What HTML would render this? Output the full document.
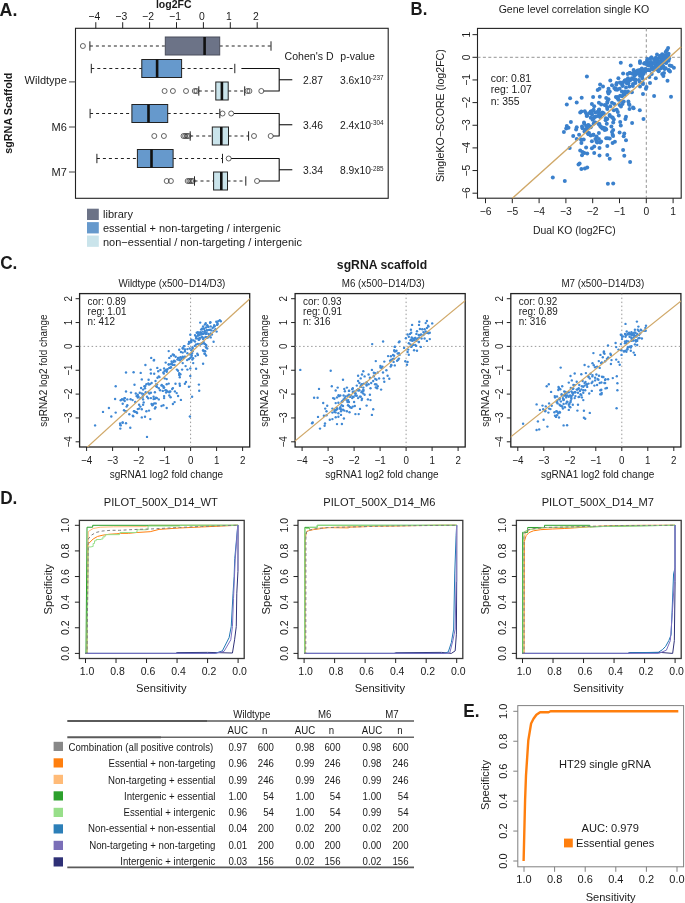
<!DOCTYPE html>
<html><head><meta charset="utf-8"><style>
html,body{margin:0;padding:0;background:#fff;}
body{width:685px;height:903px;overflow:hidden;}
svg{display:block;will-change:transform;font-family:"Liberation Sans", sans-serif;}
</style></head><body>
<svg width="685" height="903" viewBox="0 0 685 903">
<text transform="translate(-0.40 15.50) scale(1 1.05)" font-size="17.8" text-anchor="start" font-weight="bold" fill="#1a1a1a">A.</text>
<text transform="translate(410.60 15.00) scale(1 1.08)" font-size="16.7" text-anchor="start" font-weight="bold" fill="#1a1a1a">B.</text>
<text transform="translate(0.20 269.30) scale(1 1.06)" font-size="17.2" text-anchor="start" font-weight="bold" fill="#1a1a1a">C.</text>
<text transform="translate(0.20 504.10) scale(1 1.06)" font-size="17.2" text-anchor="start" font-weight="bold" fill="#1a1a1a">D.</text>
<text transform="translate(463.20 717.30) scale(1 1.06)" font-size="17.2" text-anchor="start" font-weight="bold" fill="#1a1a1a">E.</text>
<rect x="75.50" y="28.30" width="312.70" height="170.00" fill="none" stroke="#222" stroke-width="1.1"/>
<line x1="95.80" y1="28.30" x2="95.80" y2="22.20" stroke="#222" stroke-width="1"/>
<text transform="translate(94.40 19.80) scale(1 1.08)" font-size="10.4" text-anchor="middle" fill="#1a1a1a">&#8722;4</text>
<line x1="122.70" y1="28.30" x2="122.70" y2="22.20" stroke="#222" stroke-width="1"/>
<text transform="translate(121.30 19.80) scale(1 1.08)" font-size="10.4" text-anchor="middle" fill="#1a1a1a">&#8722;3</text>
<line x1="149.60" y1="28.30" x2="149.60" y2="22.20" stroke="#222" stroke-width="1"/>
<text transform="translate(148.20 19.80) scale(1 1.08)" font-size="10.4" text-anchor="middle" fill="#1a1a1a">&#8722;2</text>
<line x1="176.50" y1="28.30" x2="176.50" y2="22.20" stroke="#222" stroke-width="1"/>
<text transform="translate(175.10 19.80) scale(1 1.08)" font-size="10.4" text-anchor="middle" fill="#1a1a1a">&#8722;1</text>
<line x1="203.40" y1="28.30" x2="203.40" y2="22.20" stroke="#222" stroke-width="1"/>
<text transform="translate(202.00 19.80) scale(1 1.08)" font-size="10.4" text-anchor="middle" fill="#1a1a1a">0</text>
<line x1="230.30" y1="28.30" x2="230.30" y2="22.20" stroke="#222" stroke-width="1"/>
<text transform="translate(228.90 19.80) scale(1 1.08)" font-size="10.4" text-anchor="middle" fill="#1a1a1a">1</text>
<line x1="257.20" y1="28.30" x2="257.20" y2="22.20" stroke="#222" stroke-width="1"/>
<text transform="translate(255.80 19.80) scale(1 1.08)" font-size="10.4" text-anchor="middle" fill="#1a1a1a">2</text>
<text transform="translate(173.70 7.70)" font-size="10.5" text-anchor="middle" font-weight="bold" fill="#1a1a1a">log2FC</text>
<line x1="69.00" y1="81.90" x2="75.50" y2="81.90" stroke="#444" stroke-width="1"/>
<text transform="translate(66.80 83.60)" font-size="11.0" text-anchor="end" fill="#1a1a1a">Wildtype</text>
<line x1="69.00" y1="127.00" x2="75.50" y2="127.00" stroke="#444" stroke-width="1"/>
<text transform="translate(66.80 131.20)" font-size="11.0" text-anchor="end" fill="#1a1a1a">M6</text>
<line x1="69.00" y1="172.00" x2="75.50" y2="172.00" stroke="#444" stroke-width="1"/>
<text transform="translate(66.80 175.80)" font-size="11.0" text-anchor="end" fill="#1a1a1a">M7</text>
<text transform="translate(11.50 113.20) rotate(-90)" font-size="10.8" text-anchor="middle" font-weight="bold" fill="#1a1a1a">sgRNA Scaffold</text>
<line x1="89.90" y1="46.00" x2="165.30" y2="46.00" stroke="#222" stroke-width="1" stroke-dasharray="3,3"/>
<line x1="219.70" y1="46.00" x2="271.00" y2="46.00" stroke="#222" stroke-width="1" stroke-dasharray="3,3"/>
<line x1="89.90" y1="41.30" x2="89.90" y2="50.70" stroke="#222" stroke-width="1"/>
<line x1="271.00" y1="41.30" x2="271.00" y2="50.70" stroke="#222" stroke-width="1"/>
<rect x="165.30" y="37.00" width="54.40" height="18.00" fill="#6c7387" stroke="#4a4e5c" stroke-width="1"/>
<line x1="204.60" y1="37.00" x2="204.60" y2="55.00" stroke="#111" stroke-width="2.6"/>
<circle cx="82.90" cy="46.00" r="2.5" fill="none" stroke="#333" stroke-width="0.75"/>
<line x1="91.30" y1="68.50" x2="141.80" y2="68.50" stroke="#222" stroke-width="1" stroke-dasharray="3,3"/>
<line x1="181.60" y1="68.50" x2="234.80" y2="68.50" stroke="#222" stroke-width="1" stroke-dasharray="3,3"/>
<line x1="91.30" y1="63.80" x2="91.30" y2="73.20" stroke="#222" stroke-width="1"/>
<line x1="234.80" y1="63.80" x2="234.80" y2="73.20" stroke="#222" stroke-width="1"/>
<rect x="141.80" y="59.50" width="39.80" height="18.00" fill="#6699cc" stroke="#222" stroke-width="1"/>
<line x1="157.10" y1="59.50" x2="157.10" y2="77.50" stroke="#111" stroke-width="2.6"/>
<line x1="198.80" y1="91.00" x2="215.80" y2="91.00" stroke="#222" stroke-width="1" stroke-dasharray="3,3"/>
<line x1="228.20" y1="91.00" x2="244.70" y2="91.00" stroke="#222" stroke-width="1" stroke-dasharray="3,3"/>
<line x1="198.80" y1="86.30" x2="198.80" y2="95.70" stroke="#222" stroke-width="1"/>
<line x1="244.70" y1="86.30" x2="244.70" y2="95.70" stroke="#222" stroke-width="1"/>
<rect x="215.80" y="82.00" width="12.40" height="18.00" fill="#cae4eb" stroke="#222" stroke-width="1"/>
<line x1="221.90" y1="82.00" x2="221.90" y2="100.00" stroke="#111" stroke-width="2.6"/>
<circle cx="164.60" cy="91.00" r="2.5" fill="none" stroke="#333" stroke-width="0.75"/>
<circle cx="172.90" cy="91.00" r="2.5" fill="none" stroke="#333" stroke-width="0.75"/>
<circle cx="186.00" cy="91.00" r="2.5" fill="none" stroke="#333" stroke-width="0.75"/>
<circle cx="194.80" cy="91.00" r="2.5" fill="none" stroke="#333" stroke-width="0.75"/>
<circle cx="196.50" cy="91.00" r="2.5" fill="none" stroke="#333" stroke-width="0.75"/>
<circle cx="247.40" cy="91.00" r="2.5" fill="none" stroke="#333" stroke-width="0.75"/>
<circle cx="249.40" cy="91.00" r="2.5" fill="none" stroke="#333" stroke-width="0.75"/>
<circle cx="261.30" cy="91.00" r="2.5" fill="none" stroke="#333" stroke-width="0.75"/>
<line x1="90.10" y1="113.50" x2="131.90" y2="113.50" stroke="#222" stroke-width="1" stroke-dasharray="3,3"/>
<line x1="167.70" y1="113.50" x2="219.80" y2="113.50" stroke="#222" stroke-width="1" stroke-dasharray="3,3"/>
<line x1="90.10" y1="108.80" x2="90.10" y2="118.20" stroke="#222" stroke-width="1"/>
<line x1="219.80" y1="108.80" x2="219.80" y2="118.20" stroke="#222" stroke-width="1"/>
<rect x="131.90" y="104.50" width="35.80" height="18.00" fill="#6699cc" stroke="#222" stroke-width="1"/>
<line x1="148.50" y1="104.50" x2="148.50" y2="122.50" stroke="#111" stroke-width="2.6"/>
<circle cx="222.50" cy="113.50" r="2.5" fill="none" stroke="#333" stroke-width="0.75"/>
<circle cx="231.20" cy="113.50" r="2.5" fill="none" stroke="#333" stroke-width="0.75"/>
<line x1="190.20" y1="136.00" x2="212.30" y2="136.00" stroke="#222" stroke-width="1" stroke-dasharray="3,3"/>
<line x1="228.50" y1="136.00" x2="248.60" y2="136.00" stroke="#222" stroke-width="1" stroke-dasharray="3,3"/>
<line x1="190.20" y1="131.30" x2="190.20" y2="140.70" stroke="#222" stroke-width="1"/>
<line x1="248.60" y1="131.30" x2="248.60" y2="140.70" stroke="#222" stroke-width="1"/>
<rect x="212.30" y="127.00" width="16.20" height="18.00" fill="#cae4eb" stroke="#222" stroke-width="1"/>
<line x1="221.30" y1="127.00" x2="221.30" y2="145.00" stroke="#111" stroke-width="2.6"/>
<circle cx="154.30" cy="136.00" r="2.5" fill="none" stroke="#333" stroke-width="0.75"/>
<circle cx="163.90" cy="136.00" r="2.5" fill="none" stroke="#333" stroke-width="0.75"/>
<circle cx="183.50" cy="136.00" r="2.5" fill="none" stroke="#333" stroke-width="0.75"/>
<circle cx="185.20" cy="136.00" r="2.5" fill="none" stroke="#333" stroke-width="0.75"/>
<circle cx="186.90" cy="136.00" r="2.5" fill="none" stroke="#333" stroke-width="0.75"/>
<circle cx="188.50" cy="136.00" r="2.5" fill="none" stroke="#333" stroke-width="0.75"/>
<circle cx="254.00" cy="136.00" r="2.5" fill="none" stroke="#333" stroke-width="0.75"/>
<circle cx="270.70" cy="136.00" r="2.5" fill="none" stroke="#333" stroke-width="0.75"/>
<line x1="96.90" y1="158.50" x2="137.40" y2="158.50" stroke="#222" stroke-width="1" stroke-dasharray="3,3"/>
<line x1="173.10" y1="158.50" x2="222.50" y2="158.50" stroke="#222" stroke-width="1" stroke-dasharray="3,3"/>
<line x1="96.90" y1="153.80" x2="96.90" y2="163.20" stroke="#222" stroke-width="1"/>
<line x1="222.50" y1="153.80" x2="222.50" y2="163.20" stroke="#222" stroke-width="1"/>
<rect x="137.40" y="149.50" width="35.70" height="18.00" fill="#6699cc" stroke="#222" stroke-width="1"/>
<line x1="151.50" y1="149.50" x2="151.50" y2="167.50" stroke="#111" stroke-width="2.6"/>
<circle cx="228.70" cy="158.50" r="2.5" fill="none" stroke="#333" stroke-width="0.75"/>
<line x1="194.50" y1="181.00" x2="213.60" y2="181.00" stroke="#222" stroke-width="1" stroke-dasharray="3,3"/>
<line x1="227.50" y1="181.00" x2="245.80" y2="181.00" stroke="#222" stroke-width="1" stroke-dasharray="3,3"/>
<line x1="194.50" y1="176.30" x2="194.50" y2="185.70" stroke="#222" stroke-width="1"/>
<line x1="245.80" y1="176.30" x2="245.80" y2="185.70" stroke="#222" stroke-width="1"/>
<rect x="213.60" y="172.00" width="13.90" height="18.00" fill="#cae4eb" stroke="#222" stroke-width="1"/>
<line x1="221.30" y1="172.00" x2="221.30" y2="190.00" stroke="#111" stroke-width="2.6"/>
<circle cx="166.70" cy="181.00" r="2.5" fill="none" stroke="#333" stroke-width="0.75"/>
<circle cx="170.90" cy="181.00" r="2.5" fill="none" stroke="#333" stroke-width="0.75"/>
<circle cx="187.70" cy="181.00" r="2.5" fill="none" stroke="#333" stroke-width="0.75"/>
<circle cx="189.40" cy="181.00" r="2.5" fill="none" stroke="#333" stroke-width="0.75"/>
<circle cx="191.10" cy="181.00" r="2.5" fill="none" stroke="#333" stroke-width="0.75"/>
<circle cx="192.80" cy="181.00" r="2.5" fill="none" stroke="#333" stroke-width="0.75"/>
<circle cx="257.00" cy="181.00" r="2.5" fill="none" stroke="#333" stroke-width="0.75"/>
<polyline points="241.40,68.50 279.20,68.50 279.20,91.00 263.70,91.00" fill="none" stroke="#111" stroke-width="1.1" stroke-linejoin="round"/>
<line x1="279.20" y1="79.75" x2="292.30" y2="79.75" stroke="#111" stroke-width="1.1"/>
<polyline points="234.00,113.50 279.20,113.50 279.20,136.00 273.10,136.00" fill="none" stroke="#111" stroke-width="1.1" stroke-linejoin="round"/>
<line x1="279.20" y1="124.75" x2="292.30" y2="124.75" stroke="#111" stroke-width="1.1"/>
<polyline points="231.20,158.50 279.20,158.50 279.20,181.00 259.40,181.00" fill="none" stroke="#111" stroke-width="1.1" stroke-linejoin="round"/>
<line x1="279.20" y1="169.75" x2="292.30" y2="169.75" stroke="#111" stroke-width="1.1"/>
<text transform="translate(284.60 60.40)" font-size="10.55" text-anchor="start" fill="#1a1a1a">Cohen's D</text>
<text transform="translate(340.30 60.40)" font-size="10.5" text-anchor="start" fill="#1a1a1a">p-value</text>
<text transform="translate(303.00 84.10)" font-size="10.3" text-anchor="start" fill="#1a1a1a">2.87</text>
<text transform="translate(340.00 84.10)" font-size="10.3" text-anchor="start" fill="#1a1a1a">3.6x10</text>
<text transform="translate(370.80 80.20)" font-size="6.3" text-anchor="start" fill="#1a1a1a">-237</text>
<text transform="translate(303.00 129.00)" font-size="10.3" text-anchor="start" fill="#1a1a1a">3.46</text>
<text transform="translate(340.00 129.00)" font-size="10.3" text-anchor="start" fill="#1a1a1a">2.4x10</text>
<text transform="translate(370.80 125.10)" font-size="6.3" text-anchor="start" fill="#1a1a1a">-304</text>
<text transform="translate(303.00 174.40)" font-size="10.3" text-anchor="start" fill="#1a1a1a">3.34</text>
<text transform="translate(340.00 174.40)" font-size="10.3" text-anchor="start" fill="#1a1a1a">8.9x10</text>
<text transform="translate(370.80 170.50)" font-size="6.3" text-anchor="start" fill="#1a1a1a">-285</text>
<rect x="87" y="208.70" width="11.8" height="11.3" fill="#6c7387"/>
<text transform="translate(103.00 218.20)" font-size="11.0" text-anchor="start" fill="#1a1a1a">library</text>
<rect x="87" y="222.12" width="11.8" height="11.3" fill="#6699cc"/>
<text transform="translate(103.00 232.10)" font-size="11.0" text-anchor="start" fill="#1a1a1a">essential + non-targeting / intergenic</text>
<rect x="87" y="235.54" width="11.8" height="11.3" fill="#cae4eb"/>
<text transform="translate(103.00 246.00)" font-size="11.0" text-anchor="start" fill="#1a1a1a">non&#8722;essential / non-targeting / intergenic</text>
<rect x="477.50" y="28.40" width="203.70" height="169.80" fill="none" stroke="#222" stroke-width="1.1"/>
<line x1="646.30" y1="28.40" x2="646.30" y2="198.20" stroke="#888" stroke-width="0.9" stroke-dasharray="3,2.4"/>
<line x1="477.50" y1="57.30" x2="681.20" y2="57.30" stroke="#888" stroke-width="0.9" stroke-dasharray="3,2.4"/>
<line x1="485.50" y1="198.20" x2="485.50" y2="203.20" stroke="#222" stroke-width="1"/>
<text transform="translate(485.50 215.40) scale(1 1.04)" font-size="10.3" text-anchor="middle" fill="#1a1a1a">&#8722;6</text>
<line x1="477.50" y1="193.20" x2="472.50" y2="193.20" stroke="#222" stroke-width="1"/>
<text transform="translate(470.20 193.20) rotate(-90) scale(1 1.04)" font-size="10.3" text-anchor="middle" fill="#1a1a1a">&#8722;6</text>
<line x1="512.30" y1="198.20" x2="512.30" y2="203.20" stroke="#222" stroke-width="1"/>
<text transform="translate(512.30 215.40) scale(1 1.04)" font-size="10.3" text-anchor="middle" fill="#1a1a1a">&#8722;5</text>
<line x1="477.50" y1="170.55" x2="472.50" y2="170.55" stroke="#222" stroke-width="1"/>
<text transform="translate(470.20 170.55) rotate(-90) scale(1 1.04)" font-size="10.3" text-anchor="middle" fill="#1a1a1a">&#8722;5</text>
<line x1="539.10" y1="198.20" x2="539.10" y2="203.20" stroke="#222" stroke-width="1"/>
<text transform="translate(539.10 215.40) scale(1 1.04)" font-size="10.3" text-anchor="middle" fill="#1a1a1a">&#8722;4</text>
<line x1="477.50" y1="147.90" x2="472.50" y2="147.90" stroke="#222" stroke-width="1"/>
<text transform="translate(470.20 147.90) rotate(-90) scale(1 1.04)" font-size="10.3" text-anchor="middle" fill="#1a1a1a">&#8722;4</text>
<line x1="565.90" y1="198.20" x2="565.90" y2="203.20" stroke="#222" stroke-width="1"/>
<text transform="translate(565.90 215.40) scale(1 1.04)" font-size="10.3" text-anchor="middle" fill="#1a1a1a">&#8722;3</text>
<line x1="477.50" y1="125.25" x2="472.50" y2="125.25" stroke="#222" stroke-width="1"/>
<text transform="translate(470.20 125.25) rotate(-90) scale(1 1.04)" font-size="10.3" text-anchor="middle" fill="#1a1a1a">&#8722;3</text>
<line x1="592.70" y1="198.20" x2="592.70" y2="203.20" stroke="#222" stroke-width="1"/>
<text transform="translate(592.70 215.40) scale(1 1.04)" font-size="10.3" text-anchor="middle" fill="#1a1a1a">&#8722;2</text>
<line x1="477.50" y1="102.60" x2="472.50" y2="102.60" stroke="#222" stroke-width="1"/>
<text transform="translate(470.20 102.60) rotate(-90) scale(1 1.04)" font-size="10.3" text-anchor="middle" fill="#1a1a1a">&#8722;2</text>
<line x1="619.50" y1="198.20" x2="619.50" y2="203.20" stroke="#222" stroke-width="1"/>
<text transform="translate(619.50 215.40) scale(1 1.04)" font-size="10.3" text-anchor="middle" fill="#1a1a1a">&#8722;1</text>
<line x1="477.50" y1="79.95" x2="472.50" y2="79.95" stroke="#222" stroke-width="1"/>
<text transform="translate(470.20 79.95) rotate(-90) scale(1 1.04)" font-size="10.3" text-anchor="middle" fill="#1a1a1a">&#8722;1</text>
<line x1="646.30" y1="198.20" x2="646.30" y2="203.20" stroke="#222" stroke-width="1"/>
<text transform="translate(646.30 215.40) scale(1 1.04)" font-size="10.3" text-anchor="middle" fill="#1a1a1a">0</text>
<line x1="477.50" y1="57.30" x2="472.50" y2="57.30" stroke="#222" stroke-width="1"/>
<text transform="translate(470.20 57.30) rotate(-90) scale(1 1.04)" font-size="10.3" text-anchor="middle" fill="#1a1a1a">0</text>
<line x1="673.10" y1="198.20" x2="673.10" y2="203.20" stroke="#222" stroke-width="1"/>
<text transform="translate(673.10 215.40) scale(1 1.04)" font-size="10.3" text-anchor="middle" fill="#1a1a1a">1</text>
<line x1="477.50" y1="34.65" x2="472.50" y2="34.65" stroke="#222" stroke-width="1"/>
<text transform="translate(470.20 34.65) rotate(-90) scale(1 1.04)" font-size="10.3" text-anchor="middle" fill="#1a1a1a">1</text>
<text transform="translate(574.30 234.20)" font-size="10.4" text-anchor="middle" fill="#1a1a1a">Dual KO (log2FC)</text>
<text transform="translate(444.20 115.60) rotate(-90)" font-size="10.6" text-anchor="middle" fill="#1a1a1a">SingleKO&#8722;SCORE (log2FC)</text>
<text transform="translate(574.00 13.30)" font-size="10.5" text-anchor="middle" fill="#1a1a1a">Gene level correlation single KO</text>
<text transform="translate(490.70 81.90)" font-size="10.4" text-anchor="start" fill="#1a1a1a">cor: 0.81</text>
<text transform="translate(490.70 93.40)" font-size="10.4" text-anchor="start" fill="#1a1a1a">reg: 1.07</text>
<text transform="translate(490.70 104.90)" font-size="10.4" text-anchor="start" fill="#1a1a1a">n: 355</text>
<g fill="#3a80cc">
<circle cx="668.1" cy="47.9" r="2.0"/>
<circle cx="666.9" cy="50.2" r="2.0"/>
<circle cx="665.7" cy="51.9" r="2.0"/>
<circle cx="668.6" cy="53.7" r="2.0"/>
<circle cx="662.2" cy="54.3" r="2.0"/>
<circle cx="657.0" cy="54.6" r="2.0"/>
<circle cx="663.4" cy="56.0" r="2.0"/>
<circle cx="659.9" cy="57.2" r="2.0"/>
<circle cx="666.9" cy="57.2" r="2.0"/>
<circle cx="669.2" cy="58.4" r="2.0"/>
<circle cx="668.6" cy="60.7" r="2.0"/>
<circle cx="664.6" cy="59.5" r="2.0"/>
<circle cx="661.1" cy="59.5" r="2.0"/>
<circle cx="657.6" cy="58.9" r="2.0"/>
<circle cx="654.1" cy="59.5" r="2.0"/>
<circle cx="650.0" cy="58.9" r="2.0"/>
<circle cx="647.0" cy="60.7" r="2.0"/>
<circle cx="651.1" cy="61.9" r="2.0"/>
<circle cx="655.2" cy="61.9" r="2.0"/>
<circle cx="658.7" cy="61.9" r="2.0"/>
<circle cx="663.4" cy="62.5" r="2.0"/>
<circle cx="666.3" cy="63.0" r="2.0"/>
<circle cx="669.8" cy="65.4" r="2.0"/>
<circle cx="673.9" cy="67.7" r="2.0"/>
<circle cx="668.6" cy="70.0" r="2.0"/>
<circle cx="663.4" cy="66.5" r="2.0"/>
<circle cx="659.9" cy="65.4" r="2.0"/>
<circle cx="656.4" cy="64.2" r="2.0"/>
<circle cx="652.9" cy="63.6" r="2.0"/>
<circle cx="649.4" cy="63.0" r="2.0"/>
<circle cx="648.2" cy="65.4" r="2.0"/>
<circle cx="651.7" cy="66.5" r="2.0"/>
<circle cx="654.1" cy="67.7" r="2.0"/>
<circle cx="657.0" cy="66.5" r="2.0"/>
<circle cx="661.1" cy="68.3" r="2.0"/>
<circle cx="664.6" cy="68.9" r="2.0"/>
<circle cx="658.7" cy="71.2" r="2.0"/>
<circle cx="662.2" cy="74.1" r="2.0"/>
<circle cx="663.4" cy="75.9" r="2.0"/>
<circle cx="655.8" cy="78.2" r="2.0"/>
<circle cx="650.0" cy="82.9" r="2.0"/>
<circle cx="649.4" cy="77.1" r="2.0"/>
<circle cx="651.7" cy="74.1" r="2.0"/>
<circle cx="648.2" cy="70.0" r="2.0"/>
<circle cx="645.3" cy="68.9" r="2.0"/>
<circle cx="644.1" cy="63.6" r="2.0"/>
<circle cx="640.0" cy="61.3" r="2.0"/>
<circle cx="640.0" cy="63.0" r="2.0"/>
<circle cx="630.7" cy="65.6" r="2.0"/>
<circle cx="620.8" cy="62.8" r="2.0"/>
<circle cx="623.1" cy="73.5" r="2.0"/>
<circle cx="630.1" cy="73.0" r="2.0"/>
<circle cx="633.6" cy="70.0" r="2.0"/>
<circle cx="635.4" cy="71.8" r="2.0"/>
<circle cx="637.7" cy="70.6" r="2.0"/>
<circle cx="640.0" cy="70.0" r="2.0"/>
<circle cx="642.4" cy="69.5" r="2.0"/>
<circle cx="643.5" cy="71.2" r="2.0"/>
<circle cx="639.5" cy="73.5" r="2.0"/>
<circle cx="636.5" cy="74.1" r="2.0"/>
<circle cx="634.2" cy="75.9" r="2.0"/>
<circle cx="631.9" cy="78.2" r="2.0"/>
<circle cx="628.4" cy="79.4" r="2.0"/>
<circle cx="626.6" cy="80.0" r="2.0"/>
<circle cx="624.9" cy="80.6" r="2.0"/>
<circle cx="635.4" cy="79.4" r="2.0"/>
<circle cx="638.9" cy="80.0" r="2.0"/>
<circle cx="642.4" cy="78.2" r="2.0"/>
<circle cx="640.0" cy="75.9" r="2.0"/>
<circle cx="643.0" cy="84.1" r="2.0"/>
<circle cx="640.0" cy="86.4" r="2.0"/>
<circle cx="635.4" cy="82.9" r="2.0"/>
<circle cx="633.0" cy="84.1" r="2.0"/>
<circle cx="628.4" cy="82.9" r="2.0"/>
<circle cx="629.5" cy="86.4" r="2.0"/>
<circle cx="626.0" cy="87.6" r="2.0"/>
<circle cx="622.5" cy="85.2" r="2.0"/>
<circle cx="620.8" cy="82.9" r="2.0"/>
<circle cx="618.4" cy="78.2" r="2.0"/>
<circle cx="616.7" cy="82.9" r="2.0"/>
<circle cx="612.0" cy="85.2" r="2.0"/>
<circle cx="610.3" cy="80.6" r="2.0"/>
<circle cx="608.5" cy="88.7" r="2.0"/>
<circle cx="609.7" cy="91.6" r="2.0"/>
<circle cx="608.5" cy="93.4" r="2.0"/>
<circle cx="614.3" cy="88.1" r="2.0"/>
<circle cx="616.1" cy="88.7" r="2.0"/>
<circle cx="619.6" cy="88.7" r="2.0"/>
<circle cx="621.9" cy="91.6" r="2.0"/>
<circle cx="624.9" cy="91.6" r="2.0"/>
<circle cx="627.2" cy="92.2" r="2.0"/>
<circle cx="631.9" cy="92.2" r="2.0"/>
<circle cx="623.7" cy="94.0" r="2.0"/>
<circle cx="620.2" cy="95.7" r="2.0"/>
<circle cx="617.8" cy="96.9" r="2.0"/>
<circle cx="617.3" cy="98.1" r="2.0"/>
<circle cx="618.4" cy="99.8" r="2.0"/>
<circle cx="620.8" cy="101.0" r="2.0"/>
<circle cx="623.7" cy="101.6" r="2.0"/>
<circle cx="628.4" cy="101.6" r="2.0"/>
<circle cx="628.9" cy="103.9" r="2.0"/>
<circle cx="633.0" cy="107.4" r="2.0"/>
<circle cx="622.5" cy="103.9" r="2.0"/>
<circle cx="619.6" cy="105.1" r="2.0"/>
<circle cx="614.3" cy="103.9" r="2.0"/>
<circle cx="612.0" cy="102.7" r="2.0"/>
<circle cx="608.5" cy="99.2" r="2.0"/>
<circle cx="606.2" cy="98.1" r="2.0"/>
<circle cx="607.3" cy="102.7" r="2.0"/>
<circle cx="610.3" cy="106.2" r="2.0"/>
<circle cx="607.3" cy="107.4" r="2.0"/>
<circle cx="645.9" cy="88.7" r="2.0"/>
<circle cx="646.5" cy="87.0" r="2.0"/>
<circle cx="643.0" cy="94.0" r="2.0"/>
<circle cx="654.1" cy="96.0" r="2.0"/>
<circle cx="671.0" cy="96.7" r="2.0"/>
<circle cx="667.5" cy="80.8" r="2.0"/>
<circle cx="669.2" cy="70.6" r="2.0"/>
<circle cx="658.7" cy="70.0" r="2.0"/>
<circle cx="586.9" cy="76.5" r="2.0"/>
<circle cx="600.1" cy="84.6" r="2.0"/>
<circle cx="603.0" cy="86.4" r="2.0"/>
<circle cx="597.7" cy="89.9" r="2.0"/>
<circle cx="599.5" cy="88.7" r="2.0"/>
<circle cx="593.1" cy="97.1" r="2.0"/>
<circle cx="599.8" cy="96.7" r="2.0"/>
<circle cx="581.7" cy="97.8" r="2.0"/>
<circle cx="570.1" cy="98.3" r="2.0"/>
<circle cx="576.7" cy="102.5" r="2.0"/>
<circle cx="566.8" cy="104.5" r="2.0"/>
<circle cx="591.9" cy="103.9" r="2.0"/>
<circle cx="594.2" cy="106.2" r="2.0"/>
<circle cx="598.9" cy="102.7" r="2.0"/>
<circle cx="601.2" cy="104.5" r="2.0"/>
<circle cx="604.7" cy="105.1" r="2.0"/>
<circle cx="629.5" cy="109.1" r="2.0"/>
<circle cx="633.6" cy="108.3" r="2.0"/>
<circle cx="639.8" cy="110.3" r="2.0"/>
<circle cx="643.5" cy="119.0" r="2.0"/>
<circle cx="632.1" cy="123.1" r="2.0"/>
<circle cx="626.0" cy="116.7" r="2.0"/>
<circle cx="625.4" cy="119.0" r="2.0"/>
<circle cx="618.8" cy="115.5" r="2.0"/>
<circle cx="620.2" cy="121.9" r="2.0"/>
<circle cx="620.8" cy="125.4" r="2.0"/>
<circle cx="619.6" cy="132.4" r="2.0"/>
<circle cx="624.3" cy="133.6" r="2.0"/>
<circle cx="623.7" cy="136.3" r="2.0"/>
<circle cx="626.0" cy="140.3" r="2.0"/>
<circle cx="623.1" cy="150.0" r="2.0"/>
<circle cx="624.3" cy="155.8" r="2.0"/>
<circle cx="630.1" cy="161.9" r="2.0"/>
<circle cx="614.9" cy="141.8" r="2.0"/>
<circle cx="612.6" cy="143.0" r="2.0"/>
<circle cx="607.3" cy="145.9" r="2.0"/>
<circle cx="607.3" cy="155.0" r="2.0"/>
<circle cx="609.7" cy="158.7" r="2.0"/>
<circle cx="606.2" cy="138.3" r="2.0"/>
<circle cx="609.7" cy="138.6" r="2.0"/>
<circle cx="607.9" cy="138.3" r="2.0"/>
<circle cx="612.6" cy="134.8" r="2.0"/>
<circle cx="612.0" cy="131.9" r="2.0"/>
<circle cx="613.2" cy="130.1" r="2.0"/>
<circle cx="611.4" cy="126.6" r="2.0"/>
<circle cx="606.2" cy="129.5" r="2.0"/>
<circle cx="605.6" cy="128.4" r="2.0"/>
<circle cx="606.8" cy="123.7" r="2.0"/>
<circle cx="613.2" cy="122.5" r="2.0"/>
<circle cx="613.8" cy="119.6" r="2.0"/>
<circle cx="612.0" cy="117.3" r="2.0"/>
<circle cx="609.7" cy="116.1" r="2.0"/>
<circle cx="607.3" cy="119.0" r="2.0"/>
<circle cx="605.6" cy="120.2" r="2.0"/>
<circle cx="616.7" cy="109.7" r="2.0"/>
<circle cx="617.8" cy="112.0" r="2.0"/>
<circle cx="613.8" cy="110.3" r="2.0"/>
<circle cx="607.3" cy="109.1" r="2.0"/>
<circle cx="607.9" cy="183.8" r="2.0"/>
<circle cx="613.2" cy="183.5" r="2.0"/>
<circle cx="580.2" cy="112.6" r="2.0"/>
<circle cx="581.4" cy="111.4" r="2.0"/>
<circle cx="586.1" cy="113.2" r="2.0"/>
<circle cx="587.2" cy="115.5" r="2.0"/>
<circle cx="590.7" cy="111.4" r="2.0"/>
<circle cx="591.9" cy="114.3" r="2.0"/>
<circle cx="593.6" cy="109.7" r="2.0"/>
<circle cx="597.2" cy="112.0" r="2.0"/>
<circle cx="598.9" cy="110.3" r="2.0"/>
<circle cx="600.1" cy="113.2" r="2.0"/>
<circle cx="602.4" cy="112.6" r="2.0"/>
<circle cx="595.4" cy="116.7" r="2.0"/>
<circle cx="590.7" cy="117.8" r="2.0"/>
<circle cx="593.6" cy="118.4" r="2.0"/>
<circle cx="597.7" cy="116.1" r="2.0"/>
<circle cx="600.1" cy="116.7" r="2.0"/>
<circle cx="570.9" cy="121.9" r="2.0"/>
<circle cx="566.8" cy="126.0" r="2.0"/>
<circle cx="568.5" cy="127.8" r="2.0"/>
<circle cx="566.2" cy="128.4" r="2.0"/>
<circle cx="563.9" cy="131.9" r="2.0"/>
<circle cx="576.7" cy="127.2" r="2.0"/>
<circle cx="576.1" cy="129.5" r="2.0"/>
<circle cx="582.0" cy="126.6" r="2.0"/>
<circle cx="584.3" cy="123.7" r="2.0"/>
<circle cx="586.1" cy="126.0" r="2.0"/>
<circle cx="588.4" cy="124.9" r="2.0"/>
<circle cx="587.2" cy="128.4" r="2.0"/>
<circle cx="585.5" cy="129.5" r="2.0"/>
<circle cx="590.7" cy="127.2" r="2.0"/>
<circle cx="593.6" cy="123.7" r="2.0"/>
<circle cx="595.4" cy="122.5" r="2.0"/>
<circle cx="598.9" cy="124.3" r="2.0"/>
<circle cx="600.1" cy="126.0" r="2.0"/>
<circle cx="602.4" cy="128.4" r="2.0"/>
<circle cx="604.7" cy="130.1" r="2.0"/>
<circle cx="598.9" cy="133.0" r="2.0"/>
<circle cx="596.6" cy="136.5" r="2.0"/>
<circle cx="590.7" cy="135.4" r="2.0"/>
<circle cx="588.4" cy="134.2" r="2.0"/>
<circle cx="589.0" cy="133.0" r="2.0"/>
<circle cx="593.1" cy="134.8" r="2.0"/>
<circle cx="595.4" cy="138.9" r="2.0"/>
<circle cx="591.9" cy="141.2" r="2.0"/>
<circle cx="598.9" cy="138.9" r="2.0"/>
<circle cx="600.1" cy="142.4" r="2.0"/>
<circle cx="597.2" cy="142.4" r="2.0"/>
<circle cx="573.2" cy="135.9" r="2.0"/>
<circle cx="579.1" cy="134.8" r="2.0"/>
<circle cx="576.7" cy="138.9" r="2.0"/>
<circle cx="581.4" cy="140.0" r="2.0"/>
<circle cx="583.7" cy="139.5" r="2.0"/>
<circle cx="581.4" cy="143.0" r="2.0"/>
<circle cx="586.1" cy="147.6" r="2.0"/>
<circle cx="591.9" cy="148.2" r="2.0"/>
<circle cx="594.2" cy="146.5" r="2.0"/>
<circle cx="599.5" cy="148.0" r="2.0"/>
<circle cx="569.7" cy="148.0" r="2.0"/>
<circle cx="580.2" cy="150.5" r="2.0"/>
<circle cx="584.3" cy="152.9" r="2.0"/>
<circle cx="587.2" cy="153.5" r="2.0"/>
<circle cx="582.0" cy="155.2" r="2.0"/>
<circle cx="594.2" cy="152.9" r="2.0"/>
<circle cx="599.5" cy="155.5" r="2.0"/>
<circle cx="578.5" cy="164.6" r="2.0"/>
<circle cx="579.6" cy="163.4" r="2.0"/>
<circle cx="581.4" cy="169.0" r="2.0"/>
<circle cx="584.9" cy="168.4" r="2.0"/>
<circle cx="587.2" cy="167.5" r="2.0"/>
<circle cx="552.8" cy="177.4" r="2.0"/>
<circle cx="564.8" cy="180.9" r="2.0"/>
<circle cx="666.8" cy="59.0" r="2.0"/>
<circle cx="664.4" cy="58.5" r="2.0"/>
<circle cx="661.4" cy="57.6" r="2.0"/>
<circle cx="656.7" cy="60.6" r="2.0"/>
<circle cx="651.2" cy="57.5" r="2.0"/>
<circle cx="649.1" cy="63.4" r="2.0"/>
<circle cx="654.1" cy="63.8" r="2.0"/>
<circle cx="665.2" cy="62.6" r="2.0"/>
<circle cx="671.6" cy="66.1" r="2.0"/>
<circle cx="659.3" cy="64.0" r="2.0"/>
<circle cx="654.6" cy="63.4" r="2.0"/>
<circle cx="650.1" cy="62.4" r="2.0"/>
<circle cx="649.5" cy="65.3" r="2.0"/>
<circle cx="651.6" cy="67.4" r="2.0"/>
<circle cx="656.0" cy="65.8" r="2.0"/>
<circle cx="665.7" cy="68.3" r="2.0"/>
<circle cx="656.8" cy="69.4" r="2.0"/>
<circle cx="664.0" cy="72.9" r="2.0"/>
<circle cx="629.5" cy="73.1" r="2.0"/>
<circle cx="636.4" cy="73.0" r="2.0"/>
<circle cx="641.8" cy="68.4" r="2.0"/>
<circle cx="642.8" cy="71.1" r="2.0"/>
<circle cx="645.2" cy="71.4" r="2.0"/>
<circle cx="638.7" cy="72.3" r="2.0"/>
<circle cx="635.1" cy="74.9" r="2.0"/>
<circle cx="630.1" cy="80.2" r="2.0"/>
<circle cx="628.0" cy="78.3" r="2.0"/>
<circle cx="627.9" cy="79.8" r="2.0"/>
<circle cx="623.1" cy="82.2" r="2.0"/>
<circle cx="635.3" cy="80.7" r="2.0"/>
<circle cx="639.8" cy="81.8" r="2.0"/>
<circle cx="642.7" cy="82.7" r="2.0"/>
<circle cx="632.8" cy="86.1" r="2.0"/>
<circle cx="622.5" cy="86.1" r="2.0"/>
<circle cx="619.9" cy="82.5" r="2.0"/>
<circle cx="616.2" cy="84.8" r="2.0"/>
<circle cx="607.9" cy="91.8" r="2.0"/>
<circle cx="615.5" cy="89.6" r="2.0"/>
<circle cx="617.2" cy="89.8" r="2.0"/>
<circle cx="628.0" cy="91.4" r="2.0"/>
<circle cx="624.8" cy="94.7" r="2.0"/>
<circle cx="622.0" cy="96.3" r="2.0"/>
<circle cx="615.9" cy="97.1" r="2.0"/>
<circle cx="617.9" cy="97.9" r="2.0"/>
<circle cx="629.5" cy="104.9" r="2.0"/>
<circle cx="621.0" cy="106.6" r="2.0"/>
<circle cx="607.5" cy="101.4" r="2.0"/>
<circle cx="670.0" cy="71.5" r="2.0"/>
<circle cx="605.9" cy="105.4" r="2.0"/>
<circle cx="613.1" cy="135.9" r="2.0"/>
<circle cx="604.2" cy="128.1" r="2.0"/>
<circle cx="612.8" cy="117.8" r="2.0"/>
<circle cx="609.6" cy="115.0" r="2.0"/>
<circle cx="605.9" cy="118.3" r="2.0"/>
<circle cx="584.8" cy="111.3" r="2.0"/>
<circle cx="586.7" cy="116.0" r="2.0"/>
<circle cx="589.7" cy="113.0" r="2.0"/>
<circle cx="591.5" cy="113.5" r="2.0"/>
<circle cx="592.1" cy="111.0" r="2.0"/>
<circle cx="595.3" cy="112.5" r="2.0"/>
<circle cx="599.1" cy="109.6" r="2.0"/>
<circle cx="601.9" cy="114.4" r="2.0"/>
<circle cx="603.7" cy="113.2" r="2.0"/>
<circle cx="594.0" cy="117.1" r="2.0"/>
<circle cx="592.6" cy="119.7" r="2.0"/>
<circle cx="599.3" cy="114.1" r="2.0"/>
<circle cx="600.3" cy="117.1" r="2.0"/>
<circle cx="582.5" cy="128.2" r="2.0"/>
<circle cx="584.0" cy="122.6" r="2.0"/>
<circle cx="587.9" cy="125.5" r="2.0"/>
<circle cx="584.5" cy="131.4" r="2.0"/>
<circle cx="590.4" cy="126.5" r="2.0"/>
<circle cx="594.5" cy="122.4" r="2.0"/>
<circle cx="599.4" cy="124.0" r="2.0"/>
<circle cx="601.2" cy="127.3" r="2.0"/>
<circle cx="602.5" cy="127.5" r="2.0"/>
<circle cx="587.5" cy="132.8" r="2.0"/>
<circle cx="593.5" cy="134.7" r="2.0"/>
<circle cx="601.1" cy="141.6" r="2.0"/>
<circle cx="596.5" cy="141.6" r="2.0"/>
<circle cx="581.2" cy="139.5" r="2.0"/>
<circle cx="582.5" cy="151.9" r="2.0"/>
<circle cx="656.6" cy="60.7" r="2.0"/>
<circle cx="648.3" cy="69.9" r="2.0"/>
<circle cx="644.9" cy="63.1" r="2.0"/>
<circle cx="667.8" cy="55.2" r="2.0"/>
<circle cx="658.9" cy="65.2" r="2.0"/>
<circle cx="662.8" cy="62.1" r="2.0"/>
<circle cx="663.3" cy="56.6" r="2.0"/>
<circle cx="654.6" cy="67.6" r="2.0"/>
<circle cx="647.3" cy="59.1" r="2.0"/>
<circle cx="662.0" cy="67.3" r="2.0"/>
<circle cx="651.6" cy="57.6" r="2.0"/>
<circle cx="651.9" cy="68.8" r="2.0"/>
<circle cx="649.8" cy="70.3" r="2.0"/>
<circle cx="667.3" cy="54.7" r="2.0"/>
<circle cx="654.4" cy="62.9" r="2.0"/>
<circle cx="668.0" cy="55.8" r="2.0"/>
<circle cx="660.0" cy="56.0" r="2.0"/>
<circle cx="646.9" cy="63.8" r="2.0"/>
<circle cx="655.5" cy="61.1" r="2.0"/>
<circle cx="661.1" cy="55.4" r="2.0"/>
<circle cx="659.6" cy="56.9" r="2.0"/>
<circle cx="646.1" cy="64.1" r="2.0"/>
<circle cx="660.3" cy="56.5" r="2.0"/>
<circle cx="650.8" cy="65.1" r="2.0"/>
<circle cx="662.0" cy="64.7" r="2.0"/>
<circle cx="664.6" cy="55.3" r="2.0"/>
<circle cx="653.6" cy="69.8" r="2.0"/>
<circle cx="659.7" cy="62.1" r="2.0"/>
<circle cx="665.2" cy="59.8" r="2.0"/>
<circle cx="655.8" cy="57.7" r="2.0"/>
<circle cx="633.4" cy="73.0" r="2.0"/>
<circle cx="625.0" cy="80.5" r="2.0"/>
<circle cx="642.3" cy="75.8" r="2.0"/>
<circle cx="639.9" cy="71.8" r="2.0"/>
<circle cx="640.6" cy="74.7" r="2.0"/>
<circle cx="628.2" cy="83.5" r="2.0"/>
<circle cx="632.4" cy="73.8" r="2.0"/>
<circle cx="643.6" cy="73.7" r="2.0"/>
<circle cx="638.9" cy="70.5" r="2.0"/>
<circle cx="643.2" cy="71.9" r="2.0"/>
<circle cx="626.8" cy="83.2" r="2.0"/>
<circle cx="627.6" cy="74.1" r="2.0"/>
<circle cx="633.6" cy="79.2" r="2.0"/>
<circle cx="641.3" cy="74.0" r="2.0"/>
</g>
<line x1="512.4" y1="198.20" x2="681.20" y2="46.8" stroke="#d0a868" stroke-width="1.45"/>
<text transform="translate(382.00 268.90)" font-size="12.2" text-anchor="middle" font-weight="bold" fill="#1a1a1a">sgRNA scaffold</text>
<rect x="79.60" y="293.60" width="170.10" height="153.40" fill="none" stroke="#222" stroke-width="1.3"/>
<line x1="190.60" y1="293.60" x2="190.60" y2="447.00" stroke="#9a9a9a" stroke-width="1.0" stroke-dasharray="1.5,2.5"/>
<line x1="79.60" y1="346.40" x2="249.70" y2="346.40" stroke="#9a9a9a" stroke-width="1.0" stroke-dasharray="1.5,2.5"/>
<line x1="86.60" y1="447.00" x2="86.60" y2="451.00" stroke="#222" stroke-width="1"/>
<text transform="translate(86.60 463.70) scale(1 1.08)" font-size="9.8" text-anchor="middle" fill="#1a1a1a">&#8722;4</text>
<line x1="79.60" y1="441.80" x2="75.60" y2="441.80" stroke="#222" stroke-width="1"/>
<text transform="translate(71.70 441.80) rotate(-90) scale(1 1.08)" font-size="9.8" text-anchor="middle" fill="#1a1a1a">&#8722;4</text>
<line x1="112.60" y1="447.00" x2="112.60" y2="451.00" stroke="#222" stroke-width="1"/>
<text transform="translate(112.60 463.70) scale(1 1.08)" font-size="9.8" text-anchor="middle" fill="#1a1a1a">&#8722;3</text>
<line x1="79.60" y1="417.95" x2="75.60" y2="417.95" stroke="#222" stroke-width="1"/>
<text transform="translate(71.70 417.95) rotate(-90) scale(1 1.08)" font-size="9.8" text-anchor="middle" fill="#1a1a1a">&#8722;3</text>
<line x1="138.60" y1="447.00" x2="138.60" y2="451.00" stroke="#222" stroke-width="1"/>
<text transform="translate(138.60 463.70) scale(1 1.08)" font-size="9.8" text-anchor="middle" fill="#1a1a1a">&#8722;2</text>
<line x1="79.60" y1="394.10" x2="75.60" y2="394.10" stroke="#222" stroke-width="1"/>
<text transform="translate(71.70 394.10) rotate(-90) scale(1 1.08)" font-size="9.8" text-anchor="middle" fill="#1a1a1a">&#8722;2</text>
<line x1="164.60" y1="447.00" x2="164.60" y2="451.00" stroke="#222" stroke-width="1"/>
<text transform="translate(164.60 463.70) scale(1 1.08)" font-size="9.8" text-anchor="middle" fill="#1a1a1a">&#8722;1</text>
<line x1="79.60" y1="370.25" x2="75.60" y2="370.25" stroke="#222" stroke-width="1"/>
<text transform="translate(71.70 370.25) rotate(-90) scale(1 1.08)" font-size="9.8" text-anchor="middle" fill="#1a1a1a">&#8722;1</text>
<line x1="190.60" y1="447.00" x2="190.60" y2="451.00" stroke="#222" stroke-width="1"/>
<text transform="translate(190.60 463.70) scale(1 1.08)" font-size="9.8" text-anchor="middle" fill="#1a1a1a">0</text>
<line x1="79.60" y1="346.40" x2="75.60" y2="346.40" stroke="#222" stroke-width="1"/>
<text transform="translate(71.70 346.40) rotate(-90) scale(1 1.08)" font-size="9.8" text-anchor="middle" fill="#1a1a1a">0</text>
<line x1="216.60" y1="447.00" x2="216.60" y2="451.00" stroke="#222" stroke-width="1"/>
<text transform="translate(216.60 463.70) scale(1 1.08)" font-size="9.8" text-anchor="middle" fill="#1a1a1a">1</text>
<line x1="79.60" y1="322.55" x2="75.60" y2="322.55" stroke="#222" stroke-width="1"/>
<text transform="translate(71.70 322.55) rotate(-90) scale(1 1.08)" font-size="9.8" text-anchor="middle" fill="#1a1a1a">1</text>
<line x1="242.60" y1="447.00" x2="242.60" y2="451.00" stroke="#222" stroke-width="1"/>
<text transform="translate(242.60 463.70) scale(1 1.08)" font-size="9.8" text-anchor="middle" fill="#1a1a1a">2</text>
<line x1="79.60" y1="298.70" x2="75.60" y2="298.70" stroke="#222" stroke-width="1"/>
<text transform="translate(71.70 298.70) rotate(-90) scale(1 1.08)" font-size="9.8" text-anchor="middle" fill="#1a1a1a">2</text>
<text transform="translate(166.45 477.70) scale(1 1.03)" font-size="10.0" text-anchor="middle" fill="#1a1a1a">sgRNA1 log2 fold change</text>
<text transform="translate(47.20 370.60) rotate(-90) scale(1 1.03)" font-size="9.9" text-anchor="middle" fill="#1a1a1a">sgRNA2 log2 fold change</text>
<text transform="translate(171.95 287.40) scale(1 1.05)" font-size="9.8" text-anchor="middle" fill="#1a1a1a">Wildtype (x500&#8722;D14/D3)</text>
<text transform="translate(87.60 305.20) scale(1 1.04)" font-size="9.9" text-anchor="start" fill="#1a1a1a">cor: 0.89</text>
<text transform="translate(87.60 315.00) scale(1 1.04)" font-size="9.9" text-anchor="start" fill="#1a1a1a">reg: 1.01</text>
<text transform="translate(87.60 324.80) scale(1 1.04)" font-size="9.9" text-anchor="start" fill="#1a1a1a">n: 412</text>
<g fill="#3f88d4">
<circle cx="153.8" cy="360.4" r="1.2"/>
<circle cx="165.7" cy="362.6" r="1.2"/>
<circle cx="145.4" cy="365.0" r="1.2"/>
<circle cx="168.7" cy="364.6" r="1.2"/>
<circle cx="150.7" cy="369.6" r="1.2"/>
<circle cx="157.3" cy="367.9" r="1.2"/>
<circle cx="160.4" cy="369.9" r="1.2"/>
<circle cx="164.1" cy="368.5" r="1.2"/>
<circle cx="166.1" cy="369.9" r="1.2"/>
<circle cx="167.4" cy="369.2" r="1.2"/>
<circle cx="169.3" cy="367.9" r="1.2"/>
<circle cx="126.0" cy="372.5" r="1.2"/>
<circle cx="133.6" cy="372.2" r="1.2"/>
<circle cx="140.7" cy="372.9" r="1.2"/>
<circle cx="150.9" cy="373.5" r="1.2"/>
<circle cx="154.2" cy="373.8" r="1.2"/>
<circle cx="158.2" cy="371.2" r="1.2"/>
<circle cx="163.4" cy="372.5" r="1.2"/>
<circle cx="166.7" cy="371.8" r="1.2"/>
<circle cx="141.8" cy="379.4" r="1.2"/>
<circle cx="148.6" cy="379.7" r="1.2"/>
<circle cx="158.8" cy="376.4" r="1.2"/>
<circle cx="159.5" cy="377.1" r="1.2"/>
<circle cx="157.5" cy="377.7" r="1.2"/>
<circle cx="164.7" cy="378.4" r="1.2"/>
<circle cx="166.7" cy="379.1" r="1.2"/>
<circle cx="155.5" cy="381.0" r="1.2"/>
<circle cx="156.2" cy="384.3" r="1.2"/>
<circle cx="151.6" cy="383.0" r="1.2"/>
<circle cx="148.3" cy="383.4" r="1.2"/>
<circle cx="146.4" cy="384.3" r="1.2"/>
<circle cx="134.5" cy="384.7" r="1.2"/>
<circle cx="115.7" cy="386.3" r="1.2"/>
<circle cx="141.1" cy="388.0" r="1.2"/>
<circle cx="144.4" cy="386.3" r="1.2"/>
<circle cx="145.0" cy="388.2" r="1.2"/>
<circle cx="143.1" cy="389.6" r="1.2"/>
<circle cx="156.9" cy="386.9" r="1.2"/>
<circle cx="158.8" cy="388.2" r="1.2"/>
<circle cx="161.5" cy="385.6" r="1.2"/>
<circle cx="163.4" cy="386.3" r="1.2"/>
<circle cx="164.1" cy="387.6" r="1.2"/>
<circle cx="166.7" cy="384.3" r="1.2"/>
<circle cx="168.7" cy="383.6" r="1.2"/>
<circle cx="126.0" cy="391.5" r="1.2"/>
<circle cx="131.0" cy="392.6" r="1.2"/>
<circle cx="135.8" cy="393.5" r="1.2"/>
<circle cx="137.8" cy="394.8" r="1.2"/>
<circle cx="139.8" cy="392.8" r="1.2"/>
<circle cx="141.8" cy="393.5" r="1.2"/>
<circle cx="143.7" cy="394.2" r="1.2"/>
<circle cx="145.7" cy="392.2" r="1.2"/>
<circle cx="148.3" cy="392.2" r="1.2"/>
<circle cx="150.9" cy="392.8" r="1.2"/>
<circle cx="154.9" cy="392.2" r="1.2"/>
<circle cx="160.1" cy="390.2" r="1.2"/>
<circle cx="162.8" cy="390.9" r="1.2"/>
<circle cx="165.4" cy="390.2" r="1.2"/>
<circle cx="167.4" cy="391.5" r="1.2"/>
<circle cx="169.3" cy="392.2" r="1.2"/>
<circle cx="136.5" cy="396.1" r="1.2"/>
<circle cx="138.5" cy="396.8" r="1.2"/>
<circle cx="140.4" cy="398.1" r="1.2"/>
<circle cx="142.4" cy="397.4" r="1.2"/>
<circle cx="143.1" cy="399.4" r="1.2"/>
<circle cx="147.0" cy="396.8" r="1.2"/>
<circle cx="150.9" cy="398.1" r="1.2"/>
<circle cx="153.6" cy="396.8" r="1.2"/>
<circle cx="154.9" cy="398.8" r="1.2"/>
<circle cx="156.9" cy="398.1" r="1.2"/>
<circle cx="158.8" cy="399.4" r="1.2"/>
<circle cx="164.1" cy="396.1" r="1.2"/>
<circle cx="164.1" cy="398.1" r="1.2"/>
<circle cx="169.3" cy="395.5" r="1.2"/>
<circle cx="115.1" cy="399.0" r="1.2"/>
<circle cx="122.0" cy="399.2" r="1.2"/>
<circle cx="123.4" cy="399.8" r="1.2"/>
<circle cx="124.7" cy="398.1" r="1.2"/>
<circle cx="127.3" cy="399.4" r="1.2"/>
<circle cx="130.6" cy="399.2" r="1.2"/>
<circle cx="132.6" cy="400.1" r="1.2"/>
<circle cx="135.2" cy="402.0" r="1.2"/>
<circle cx="143.7" cy="402.4" r="1.2"/>
<circle cx="122.7" cy="403.8" r="1.2"/>
<circle cx="127.3" cy="405.3" r="1.2"/>
<circle cx="126.6" cy="406.6" r="1.2"/>
<circle cx="139.1" cy="404.7" r="1.2"/>
<circle cx="140.4" cy="406.6" r="1.2"/>
<circle cx="143.1" cy="404.7" r="1.2"/>
<circle cx="151.6" cy="404.0" r="1.2"/>
<circle cx="152.3" cy="405.3" r="1.2"/>
<circle cx="154.2" cy="403.4" r="1.2"/>
<circle cx="155.5" cy="407.3" r="1.2"/>
<circle cx="154.9" cy="408.6" r="1.2"/>
<circle cx="161.5" cy="406.0" r="1.2"/>
<circle cx="163.4" cy="405.3" r="1.2"/>
<circle cx="166.7" cy="408.0" r="1.2"/>
<circle cx="108.9" cy="408.0" r="1.2"/>
<circle cx="103.0" cy="411.9" r="1.2"/>
<circle cx="115.7" cy="412.6" r="1.2"/>
<circle cx="124.0" cy="410.2" r="1.2"/>
<circle cx="126.0" cy="411.2" r="1.2"/>
<circle cx="129.3" cy="414.3" r="1.2"/>
<circle cx="132.8" cy="415.8" r="1.2"/>
<circle cx="133.9" cy="411.2" r="1.2"/>
<circle cx="135.2" cy="411.9" r="1.2"/>
<circle cx="136.5" cy="412.3" r="1.2"/>
<circle cx="139.1" cy="408.6" r="1.2"/>
<circle cx="141.8" cy="409.3" r="1.2"/>
<circle cx="146.4" cy="411.2" r="1.2"/>
<circle cx="149.0" cy="410.6" r="1.2"/>
<circle cx="141.8" cy="417.4" r="1.2"/>
<circle cx="145.0" cy="416.8" r="1.2"/>
<circle cx="150.3" cy="419.1" r="1.2"/>
<circle cx="111.3" cy="416.5" r="1.2"/>
<circle cx="95.1" cy="425.4" r="1.2"/>
<circle cx="120.1" cy="423.5" r="1.2"/>
<circle cx="122.7" cy="422.4" r="1.2"/>
<circle cx="126.0" cy="423.3" r="1.2"/>
<circle cx="120.7" cy="425.4" r="1.2"/>
<circle cx="120.3" cy="428.6" r="1.2"/>
<circle cx="130.3" cy="427.7" r="1.2"/>
<circle cx="147.0" cy="436.9" r="1.2"/>
<circle cx="200.2" cy="322.6" r="1.2"/>
<circle cx="210.1" cy="322.8" r="1.2"/>
<circle cx="204.9" cy="324.6" r="1.2"/>
<circle cx="207.2" cy="325.2" r="1.2"/>
<circle cx="203.1" cy="326.4" r="1.2"/>
<circle cx="202.0" cy="328.7" r="1.2"/>
<circle cx="204.3" cy="328.7" r="1.2"/>
<circle cx="206.1" cy="327.5" r="1.2"/>
<circle cx="208.4" cy="326.9" r="1.2"/>
<circle cx="210.7" cy="326.4" r="1.2"/>
<circle cx="212.5" cy="328.1" r="1.2"/>
<circle cx="214.2" cy="325.2" r="1.2"/>
<circle cx="217.2" cy="322.8" r="1.2"/>
<circle cx="218.3" cy="321.1" r="1.2"/>
<circle cx="219.8" cy="320.3" r="1.2"/>
<circle cx="217.7" cy="324.0" r="1.2"/>
<circle cx="215.4" cy="329.3" r="1.2"/>
<circle cx="213.6" cy="331.0" r="1.2"/>
<circle cx="216.6" cy="331.6" r="1.2"/>
<circle cx="211.3" cy="330.4" r="1.2"/>
<circle cx="209.0" cy="329.9" r="1.2"/>
<circle cx="207.2" cy="330.4" r="1.2"/>
<circle cx="204.9" cy="331.0" r="1.2"/>
<circle cx="202.6" cy="331.6" r="1.2"/>
<circle cx="200.2" cy="332.2" r="1.2"/>
<circle cx="197.9" cy="332.2" r="1.2"/>
<circle cx="196.7" cy="332.8" r="1.2"/>
<circle cx="195.0" cy="335.1" r="1.2"/>
<circle cx="196.1" cy="336.9" r="1.2"/>
<circle cx="197.9" cy="335.7" r="1.2"/>
<circle cx="199.6" cy="335.1" r="1.2"/>
<circle cx="201.4" cy="334.5" r="1.2"/>
<circle cx="203.1" cy="333.9" r="1.2"/>
<circle cx="204.9" cy="333.4" r="1.2"/>
<circle cx="206.6" cy="332.8" r="1.2"/>
<circle cx="208.4" cy="333.9" r="1.2"/>
<circle cx="210.7" cy="333.4" r="1.2"/>
<circle cx="211.9" cy="334.5" r="1.2"/>
<circle cx="209.0" cy="336.3" r="1.2"/>
<circle cx="207.2" cy="337.4" r="1.2"/>
<circle cx="205.5" cy="336.9" r="1.2"/>
<circle cx="203.7" cy="338.0" r="1.2"/>
<circle cx="201.4" cy="337.4" r="1.2"/>
<circle cx="199.6" cy="338.0" r="1.2"/>
<circle cx="197.9" cy="338.6" r="1.2"/>
<circle cx="196.1" cy="338.6" r="1.2"/>
<circle cx="210.7" cy="337.4" r="1.2"/>
<circle cx="213.6" cy="341.8" r="1.2"/>
<circle cx="190.3" cy="334.8" r="1.2"/>
<circle cx="190.9" cy="340.9" r="1.2"/>
<circle cx="189.7" cy="342.7" r="1.2"/>
<circle cx="188.5" cy="343.9" r="1.2"/>
<circle cx="191.5" cy="339.8" r="1.2"/>
<circle cx="195.0" cy="341.5" r="1.2"/>
<circle cx="196.1" cy="344.5" r="1.2"/>
<circle cx="197.9" cy="343.9" r="1.2"/>
<circle cx="200.2" cy="344.5" r="1.2"/>
<circle cx="202.0" cy="343.3" r="1.2"/>
<circle cx="203.7" cy="342.1" r="1.2"/>
<circle cx="204.9" cy="343.9" r="1.2"/>
<circle cx="206.1" cy="345.0" r="1.2"/>
<circle cx="207.2" cy="348.5" r="1.2"/>
<circle cx="203.1" cy="350.3" r="1.2"/>
<circle cx="204.3" cy="350.9" r="1.2"/>
<circle cx="204.9" cy="353.8" r="1.2"/>
<circle cx="206.1" cy="355.5" r="1.2"/>
<circle cx="197.3" cy="353.8" r="1.2"/>
<circle cx="197.9" cy="355.0" r="1.2"/>
<circle cx="195.5" cy="356.1" r="1.2"/>
<circle cx="183.9" cy="346.2" r="1.2"/>
<circle cx="182.7" cy="348.0" r="1.2"/>
<circle cx="185.0" cy="349.7" r="1.2"/>
<circle cx="187.4" cy="349.1" r="1.2"/>
<circle cx="189.7" cy="348.5" r="1.2"/>
<circle cx="191.5" cy="350.3" r="1.2"/>
<circle cx="192.6" cy="348.5" r="1.2"/>
<circle cx="179.2" cy="349.7" r="1.2"/>
<circle cx="180.9" cy="352.0" r="1.2"/>
<circle cx="182.7" cy="352.6" r="1.2"/>
<circle cx="185.0" cy="351.5" r="1.2"/>
<circle cx="187.4" cy="353.2" r="1.2"/>
<circle cx="189.7" cy="354.4" r="1.2"/>
<circle cx="192.0" cy="353.2" r="1.2"/>
<circle cx="191.5" cy="356.7" r="1.2"/>
<circle cx="192.3" cy="359.6" r="1.2"/>
<circle cx="193.2" cy="363.1" r="1.2"/>
<circle cx="190.3" cy="357.9" r="1.2"/>
<circle cx="188.5" cy="359.1" r="1.2"/>
<circle cx="168.7" cy="351.1" r="1.2"/>
<circle cx="172.8" cy="354.4" r="1.2"/>
<circle cx="173.9" cy="355.5" r="1.2"/>
<circle cx="171.0" cy="356.1" r="1.2"/>
<circle cx="169.3" cy="357.9" r="1.2"/>
<circle cx="175.7" cy="356.7" r="1.2"/>
<circle cx="178.0" cy="357.9" r="1.2"/>
<circle cx="180.4" cy="357.3" r="1.2"/>
<circle cx="182.7" cy="356.7" r="1.2"/>
<circle cx="185.0" cy="356.7" r="1.2"/>
<circle cx="177.4" cy="359.6" r="1.2"/>
<circle cx="175.1" cy="361.4" r="1.2"/>
<circle cx="173.4" cy="362.0" r="1.2"/>
<circle cx="171.6" cy="361.4" r="1.2"/>
<circle cx="179.8" cy="360.2" r="1.2"/>
<circle cx="181.5" cy="359.1" r="1.2"/>
<circle cx="182.7" cy="363.1" r="1.2"/>
<circle cx="185.6" cy="366.1" r="1.2"/>
<circle cx="190.3" cy="368.4" r="1.2"/>
<circle cx="196.1" cy="368.7" r="1.2"/>
<circle cx="203.1" cy="363.7" r="1.2"/>
<circle cx="151.2" cy="357.9" r="1.2"/>
<circle cx="154.1" cy="360.0" r="1.2"/>
<circle cx="171.0" cy="364.3" r="1.2"/>
<circle cx="172.8" cy="364.9" r="1.2"/>
<circle cx="174.5" cy="364.9" r="1.2"/>
<circle cx="171.0" cy="367.2" r="1.2"/>
<circle cx="176.9" cy="369.6" r="1.2"/>
<circle cx="178.0" cy="370.7" r="1.2"/>
<circle cx="179.2" cy="373.1" r="1.2"/>
<circle cx="180.4" cy="374.2" r="1.2"/>
<circle cx="179.8" cy="377.2" r="1.2"/>
<circle cx="182.1" cy="369.6" r="1.2"/>
<circle cx="187.4" cy="369.6" r="1.2"/>
<circle cx="190.3" cy="376.0" r="1.2"/>
<circle cx="175.5" cy="383.8" r="1.2"/>
<circle cx="179.6" cy="383.8" r="1.2"/>
<circle cx="179.9" cy="385.7" r="1.2"/>
<circle cx="184.9" cy="383.8" r="1.2"/>
<circle cx="186.0" cy="382.0" r="1.2"/>
<circle cx="188.9" cy="386.7" r="1.2"/>
<circle cx="198.9" cy="384.6" r="1.2"/>
<circle cx="199.2" cy="390.8" r="1.2"/>
<circle cx="192.1" cy="396.8" r="1.2"/>
<circle cx="178.1" cy="396.0" r="1.2"/>
<circle cx="180.9" cy="399.9" r="1.2"/>
<circle cx="174.9" cy="391.4" r="1.2"/>
<circle cx="176.7" cy="393.1" r="1.2"/>
<circle cx="172.2" cy="389.0" r="1.2"/>
<circle cx="170.3" cy="391.4" r="1.2"/>
<circle cx="170.6" cy="397.2" r="1.2"/>
<circle cx="174.6" cy="402.1" r="1.2"/>
<circle cx="172.9" cy="404.0" r="1.2"/>
<circle cx="189.9" cy="416.5" r="1.2"/>
<circle cx="168.8" cy="364.2" r="1.2"/>
<circle cx="164.6" cy="370.9" r="1.2"/>
<circle cx="166.6" cy="370.7" r="1.2"/>
<circle cx="170.4" cy="367.8" r="1.2"/>
<circle cx="163.8" cy="373.6" r="1.2"/>
<circle cx="157.0" cy="384.6" r="1.2"/>
<circle cx="150.2" cy="384.1" r="1.2"/>
<circle cx="149.0" cy="384.5" r="1.2"/>
<circle cx="145.3" cy="386.1" r="1.2"/>
<circle cx="155.8" cy="386.1" r="1.2"/>
<circle cx="161.8" cy="385.0" r="1.2"/>
<circle cx="163.6" cy="387.8" r="1.2"/>
<circle cx="149.4" cy="393.6" r="1.2"/>
<circle cx="166.4" cy="390.4" r="1.2"/>
<circle cx="166.1" cy="392.6" r="1.2"/>
<circle cx="137.4" cy="395.9" r="1.2"/>
<circle cx="137.8" cy="397.6" r="1.2"/>
<circle cx="142.8" cy="396.1" r="1.2"/>
<circle cx="148.2" cy="398.2" r="1.2"/>
<circle cx="153.6" cy="399.1" r="1.2"/>
<circle cx="156.0" cy="397.8" r="1.2"/>
<circle cx="120.7" cy="400.3" r="1.2"/>
<circle cx="124.7" cy="401.0" r="1.2"/>
<circle cx="124.6" cy="398.2" r="1.2"/>
<circle cx="152.9" cy="404.5" r="1.2"/>
<circle cx="155.7" cy="403.4" r="1.2"/>
<circle cx="125.7" cy="411.5" r="1.2"/>
<circle cx="133.2" cy="416.2" r="1.2"/>
<circle cx="134.3" cy="411.1" r="1.2"/>
<circle cx="137.1" cy="413.0" r="1.2"/>
<circle cx="137.8" cy="409.1" r="1.2"/>
<circle cx="122.6" cy="422.7" r="1.2"/>
<circle cx="120.3" cy="424.9" r="1.2"/>
<circle cx="210.4" cy="322.2" r="1.2"/>
<circle cx="205.7" cy="323.2" r="1.2"/>
<circle cx="201.1" cy="329.6" r="1.2"/>
<circle cx="203.4" cy="328.5" r="1.2"/>
<circle cx="207.9" cy="326.4" r="1.2"/>
<circle cx="213.5" cy="327.1" r="1.2"/>
<circle cx="214.7" cy="326.3" r="1.2"/>
<circle cx="216.3" cy="321.7" r="1.2"/>
<circle cx="220.8" cy="321.3" r="1.2"/>
<circle cx="217.1" cy="324.9" r="1.2"/>
<circle cx="210.2" cy="329.8" r="1.2"/>
<circle cx="206.8" cy="330.2" r="1.2"/>
<circle cx="204.6" cy="332.3" r="1.2"/>
<circle cx="201.1" cy="332.9" r="1.2"/>
<circle cx="198.1" cy="334.1" r="1.2"/>
<circle cx="195.7" cy="336.1" r="1.2"/>
<circle cx="199.2" cy="334.3" r="1.2"/>
<circle cx="201.7" cy="333.9" r="1.2"/>
<circle cx="206.1" cy="333.9" r="1.2"/>
<circle cx="209.7" cy="335.3" r="1.2"/>
<circle cx="207.7" cy="337.5" r="1.2"/>
<circle cx="206.8" cy="337.2" r="1.2"/>
<circle cx="203.0" cy="339.1" r="1.2"/>
<circle cx="202.2" cy="337.0" r="1.2"/>
<circle cx="199.7" cy="339.0" r="1.2"/>
<circle cx="198.8" cy="339.9" r="1.2"/>
<circle cx="191.3" cy="342.0" r="1.2"/>
<circle cx="189.0" cy="342.0" r="1.2"/>
<circle cx="191.4" cy="340.6" r="1.2"/>
<circle cx="193.6" cy="340.4" r="1.2"/>
<circle cx="194.8" cy="345.9" r="1.2"/>
<circle cx="200.2" cy="343.9" r="1.2"/>
<circle cx="201.5" cy="343.7" r="1.2"/>
<circle cx="204.0" cy="343.4" r="1.2"/>
<circle cx="206.2" cy="345.7" r="1.2"/>
<circle cx="206.0" cy="347.6" r="1.2"/>
<circle cx="203.5" cy="351.1" r="1.2"/>
<circle cx="205.2" cy="351.2" r="1.2"/>
<circle cx="204.5" cy="353.8" r="1.2"/>
<circle cx="184.5" cy="346.1" r="1.2"/>
<circle cx="182.8" cy="348.5" r="1.2"/>
<circle cx="184.8" cy="349.5" r="1.2"/>
<circle cx="192.7" cy="351.2" r="1.2"/>
<circle cx="192.5" cy="347.4" r="1.2"/>
<circle cx="191.7" cy="355.2" r="1.2"/>
<circle cx="193.1" cy="358.3" r="1.2"/>
<circle cx="189.1" cy="359.0" r="1.2"/>
<circle cx="187.1" cy="360.1" r="1.2"/>
<circle cx="173.8" cy="354.9" r="1.2"/>
<circle cx="178.8" cy="357.9" r="1.2"/>
<circle cx="183.4" cy="358.0" r="1.2"/>
<circle cx="184.5" cy="356.9" r="1.2"/>
<circle cx="174.1" cy="360.6" r="1.2"/>
<circle cx="179.4" cy="359.9" r="1.2"/>
<circle cx="181.3" cy="357.8" r="1.2"/>
<circle cx="171.8" cy="363.3" r="1.2"/>
<circle cx="179.6" cy="374.3" r="1.2"/>
<circle cx="179.2" cy="375.0" r="1.2"/>
<circle cx="172.9" cy="388.1" r="1.2"/>
<circle cx="169.4" cy="391.6" r="1.2"/>
</g>
<clipPath id="cc0"><rect x="79.6" y="293.6" width="170.1" height="153.39999999999998"/></clipPath>
<line clip-path="url(#cc0)" x1="76.20" y1="457.25" x2="253.00" y2="295.89" stroke="#d0a868" stroke-width="1.2"/>
<rect x="295.10" y="293.60" width="170.10" height="153.40" fill="none" stroke="#222" stroke-width="1.3"/>
<line x1="406.10" y1="293.60" x2="406.10" y2="447.00" stroke="#9a9a9a" stroke-width="1.0" stroke-dasharray="1.5,2.5"/>
<line x1="295.10" y1="346.40" x2="465.20" y2="346.40" stroke="#9a9a9a" stroke-width="1.0" stroke-dasharray="1.5,2.5"/>
<line x1="302.10" y1="447.00" x2="302.10" y2="451.00" stroke="#222" stroke-width="1"/>
<text transform="translate(302.10 463.70) scale(1 1.08)" font-size="9.8" text-anchor="middle" fill="#1a1a1a">&#8722;4</text>
<line x1="295.10" y1="441.80" x2="291.10" y2="441.80" stroke="#222" stroke-width="1"/>
<text transform="translate(287.20 441.80) rotate(-90) scale(1 1.08)" font-size="9.8" text-anchor="middle" fill="#1a1a1a">&#8722;4</text>
<line x1="328.10" y1="447.00" x2="328.10" y2="451.00" stroke="#222" stroke-width="1"/>
<text transform="translate(328.10 463.70) scale(1 1.08)" font-size="9.8" text-anchor="middle" fill="#1a1a1a">&#8722;3</text>
<line x1="295.10" y1="417.95" x2="291.10" y2="417.95" stroke="#222" stroke-width="1"/>
<text transform="translate(287.20 417.95) rotate(-90) scale(1 1.08)" font-size="9.8" text-anchor="middle" fill="#1a1a1a">&#8722;3</text>
<line x1="354.10" y1="447.00" x2="354.10" y2="451.00" stroke="#222" stroke-width="1"/>
<text transform="translate(354.10 463.70) scale(1 1.08)" font-size="9.8" text-anchor="middle" fill="#1a1a1a">&#8722;2</text>
<line x1="295.10" y1="394.10" x2="291.10" y2="394.10" stroke="#222" stroke-width="1"/>
<text transform="translate(287.20 394.10) rotate(-90) scale(1 1.08)" font-size="9.8" text-anchor="middle" fill="#1a1a1a">&#8722;2</text>
<line x1="380.10" y1="447.00" x2="380.10" y2="451.00" stroke="#222" stroke-width="1"/>
<text transform="translate(380.10 463.70) scale(1 1.08)" font-size="9.8" text-anchor="middle" fill="#1a1a1a">&#8722;1</text>
<line x1="295.10" y1="370.25" x2="291.10" y2="370.25" stroke="#222" stroke-width="1"/>
<text transform="translate(287.20 370.25) rotate(-90) scale(1 1.08)" font-size="9.8" text-anchor="middle" fill="#1a1a1a">&#8722;1</text>
<line x1="406.10" y1="447.00" x2="406.10" y2="451.00" stroke="#222" stroke-width="1"/>
<text transform="translate(406.10 463.70) scale(1 1.08)" font-size="9.8" text-anchor="middle" fill="#1a1a1a">0</text>
<line x1="295.10" y1="346.40" x2="291.10" y2="346.40" stroke="#222" stroke-width="1"/>
<text transform="translate(287.20 346.40) rotate(-90) scale(1 1.08)" font-size="9.8" text-anchor="middle" fill="#1a1a1a">0</text>
<line x1="432.10" y1="447.00" x2="432.10" y2="451.00" stroke="#222" stroke-width="1"/>
<text transform="translate(432.10 463.70) scale(1 1.08)" font-size="9.8" text-anchor="middle" fill="#1a1a1a">1</text>
<line x1="295.10" y1="322.55" x2="291.10" y2="322.55" stroke="#222" stroke-width="1"/>
<text transform="translate(287.20 322.55) rotate(-90) scale(1 1.08)" font-size="9.8" text-anchor="middle" fill="#1a1a1a">1</text>
<line x1="458.10" y1="447.00" x2="458.10" y2="451.00" stroke="#222" stroke-width="1"/>
<text transform="translate(458.10 463.70) scale(1 1.08)" font-size="9.8" text-anchor="middle" fill="#1a1a1a">2</text>
<line x1="295.10" y1="298.70" x2="291.10" y2="298.70" stroke="#222" stroke-width="1"/>
<text transform="translate(287.20 298.70) rotate(-90) scale(1 1.08)" font-size="9.8" text-anchor="middle" fill="#1a1a1a">2</text>
<text transform="translate(381.95 477.70) scale(1 1.03)" font-size="10.0" text-anchor="middle" fill="#1a1a1a">sgRNA1 log2 fold change</text>
<text transform="translate(267.80 370.60) rotate(-90) scale(1 1.03)" font-size="9.9" text-anchor="middle" fill="#1a1a1a">sgRNA2 log2 fold change</text>
<text transform="translate(383.25 287.40) scale(1 1.05)" font-size="9.8" text-anchor="middle" fill="#1a1a1a">M6 (x500&#8722;D14/D3)</text>
<text transform="translate(303.10 305.20) scale(1 1.04)" font-size="9.9" text-anchor="start" fill="#1a1a1a">cor: 0.93</text>
<text transform="translate(303.10 315.00) scale(1 1.04)" font-size="9.9" text-anchor="start" fill="#1a1a1a">reg: 0.91</text>
<text transform="translate(303.10 324.80) scale(1 1.04)" font-size="9.9" text-anchor="start" fill="#1a1a1a">n: 316</text>
<g fill="#3f88d4">
<circle cx="375.8" cy="361.1" r="1.2"/>
<circle cx="384.3" cy="361.6" r="1.2"/>
<circle cx="380.4" cy="365.9" r="1.2"/>
<circle cx="382.4" cy="366.6" r="1.2"/>
<circle cx="381.7" cy="367.9" r="1.2"/>
<circle cx="300.3" cy="369.9" r="1.2"/>
<circle cx="330.7" cy="370.8" r="1.2"/>
<circle cx="363.3" cy="371.2" r="1.2"/>
<circle cx="371.9" cy="369.9" r="1.2"/>
<circle cx="375.1" cy="373.1" r="1.2"/>
<circle cx="377.8" cy="372.5" r="1.2"/>
<circle cx="383.0" cy="372.5" r="1.2"/>
<circle cx="358.1" cy="375.8" r="1.2"/>
<circle cx="362.0" cy="374.5" r="1.2"/>
<circle cx="364.6" cy="376.4" r="1.2"/>
<circle cx="368.6" cy="374.5" r="1.2"/>
<circle cx="369.9" cy="377.7" r="1.2"/>
<circle cx="373.8" cy="376.4" r="1.2"/>
<circle cx="376.5" cy="379.7" r="1.2"/>
<circle cx="379.1" cy="378.4" r="1.2"/>
<circle cx="383.7" cy="378.4" r="1.2"/>
<circle cx="343.0" cy="379.7" r="1.2"/>
<circle cx="360.7" cy="378.4" r="1.2"/>
<circle cx="358.1" cy="381.0" r="1.2"/>
<circle cx="359.4" cy="383.0" r="1.2"/>
<circle cx="362.0" cy="384.3" r="1.2"/>
<circle cx="364.0" cy="383.6" r="1.2"/>
<circle cx="366.6" cy="382.3" r="1.2"/>
<circle cx="356.8" cy="385.6" r="1.2"/>
<circle cx="360.7" cy="386.3" r="1.2"/>
<circle cx="363.3" cy="387.6" r="1.2"/>
<circle cx="366.6" cy="385.6" r="1.2"/>
<circle cx="368.6" cy="384.3" r="1.2"/>
<circle cx="371.2" cy="383.0" r="1.2"/>
<circle cx="373.2" cy="381.0" r="1.2"/>
<circle cx="375.1" cy="384.3" r="1.2"/>
<circle cx="377.8" cy="386.3" r="1.2"/>
<circle cx="381.1" cy="389.6" r="1.2"/>
<circle cx="384.3" cy="381.7" r="1.2"/>
<circle cx="319.0" cy="388.9" r="1.2"/>
<circle cx="331.8" cy="386.3" r="1.2"/>
<circle cx="337.7" cy="387.6" r="1.2"/>
<circle cx="335.7" cy="390.5" r="1.2"/>
<circle cx="344.3" cy="388.9" r="1.2"/>
<circle cx="344.9" cy="391.3" r="1.2"/>
<circle cx="346.9" cy="387.6" r="1.2"/>
<circle cx="348.9" cy="390.9" r="1.2"/>
<circle cx="352.8" cy="388.2" r="1.2"/>
<circle cx="354.1" cy="391.5" r="1.2"/>
<circle cx="355.4" cy="393.5" r="1.2"/>
<circle cx="356.8" cy="390.2" r="1.2"/>
<circle cx="359.4" cy="390.2" r="1.2"/>
<circle cx="362.0" cy="391.5" r="1.2"/>
<circle cx="363.3" cy="389.6" r="1.2"/>
<circle cx="370.5" cy="388.2" r="1.2"/>
<circle cx="377.1" cy="388.2" r="1.2"/>
<circle cx="314.1" cy="397.7" r="1.2"/>
<circle cx="317.6" cy="397.8" r="1.2"/>
<circle cx="333.1" cy="398.1" r="1.2"/>
<circle cx="334.4" cy="398.8" r="1.2"/>
<circle cx="337.0" cy="397.4" r="1.2"/>
<circle cx="339.0" cy="396.1" r="1.2"/>
<circle cx="340.3" cy="395.5" r="1.2"/>
<circle cx="343.6" cy="395.5" r="1.2"/>
<circle cx="345.6" cy="396.5" r="1.2"/>
<circle cx="347.6" cy="395.7" r="1.2"/>
<circle cx="348.9" cy="394.8" r="1.2"/>
<circle cx="350.8" cy="395.5" r="1.2"/>
<circle cx="352.8" cy="396.8" r="1.2"/>
<circle cx="355.4" cy="395.5" r="1.2"/>
<circle cx="358.1" cy="398.1" r="1.2"/>
<circle cx="360.7" cy="396.8" r="1.2"/>
<circle cx="362.0" cy="398.8" r="1.2"/>
<circle cx="364.6" cy="394.8" r="1.2"/>
<circle cx="367.9" cy="399.4" r="1.2"/>
<circle cx="369.9" cy="394.8" r="1.2"/>
<circle cx="370.5" cy="400.1" r="1.2"/>
<circle cx="323.2" cy="403.0" r="1.2"/>
<circle cx="327.2" cy="405.7" r="1.2"/>
<circle cx="335.7" cy="403.1" r="1.2"/>
<circle cx="338.4" cy="402.7" r="1.2"/>
<circle cx="341.6" cy="402.0" r="1.2"/>
<circle cx="343.6" cy="399.4" r="1.2"/>
<circle cx="345.6" cy="399.4" r="1.2"/>
<circle cx="348.2" cy="400.1" r="1.2"/>
<circle cx="348.9" cy="402.0" r="1.2"/>
<circle cx="352.2" cy="398.1" r="1.2"/>
<circle cx="354.1" cy="402.0" r="1.2"/>
<circle cx="325.2" cy="408.6" r="1.2"/>
<circle cx="332.4" cy="408.6" r="1.2"/>
<circle cx="334.4" cy="409.9" r="1.2"/>
<circle cx="337.0" cy="409.3" r="1.2"/>
<circle cx="340.3" cy="407.3" r="1.2"/>
<circle cx="341.0" cy="409.3" r="1.2"/>
<circle cx="343.0" cy="406.0" r="1.2"/>
<circle cx="348.9" cy="406.0" r="1.2"/>
<circle cx="350.2" cy="407.3" r="1.2"/>
<circle cx="352.8" cy="406.6" r="1.2"/>
<circle cx="354.8" cy="406.0" r="1.2"/>
<circle cx="360.0" cy="408.9" r="1.2"/>
<circle cx="366.6" cy="405.6" r="1.2"/>
<circle cx="373.2" cy="409.3" r="1.2"/>
<circle cx="326.5" cy="411.2" r="1.2"/>
<circle cx="332.4" cy="412.6" r="1.2"/>
<circle cx="334.4" cy="411.9" r="1.2"/>
<circle cx="338.4" cy="413.2" r="1.2"/>
<circle cx="341.0" cy="411.2" r="1.2"/>
<circle cx="344.3" cy="410.6" r="1.2"/>
<circle cx="346.9" cy="411.2" r="1.2"/>
<circle cx="349.5" cy="412.3" r="1.2"/>
<circle cx="355.4" cy="414.1" r="1.2"/>
<circle cx="358.7" cy="414.1" r="1.2"/>
<circle cx="371.9" cy="414.9" r="1.2"/>
<circle cx="318.0" cy="416.9" r="1.2"/>
<circle cx="323.9" cy="415.8" r="1.2"/>
<circle cx="326.5" cy="415.2" r="1.2"/>
<circle cx="329.8" cy="419.8" r="1.2"/>
<circle cx="332.4" cy="419.1" r="1.2"/>
<circle cx="335.7" cy="417.2" r="1.2"/>
<circle cx="338.4" cy="416.8" r="1.2"/>
<circle cx="341.0" cy="414.9" r="1.2"/>
<circle cx="343.9" cy="418.5" r="1.2"/>
<circle cx="312.1" cy="423.3" r="1.2"/>
<circle cx="312.7" cy="422.4" r="1.2"/>
<circle cx="325.0" cy="423.5" r="1.2"/>
<circle cx="324.6" cy="425.7" r="1.2"/>
<circle cx="320.0" cy="428.6" r="1.2"/>
<circle cx="337.0" cy="424.1" r="1.2"/>
<circle cx="341.9" cy="424.0" r="1.2"/>
<circle cx="419.3" cy="321.8" r="1.2"/>
<circle cx="426.9" cy="321.0" r="1.2"/>
<circle cx="432.2" cy="323.4" r="1.2"/>
<circle cx="425.7" cy="323.1" r="1.2"/>
<circle cx="412.1" cy="324.9" r="1.2"/>
<circle cx="419.0" cy="324.9" r="1.2"/>
<circle cx="428.1" cy="325.7" r="1.2"/>
<circle cx="426.9" cy="328.0" r="1.2"/>
<circle cx="419.9" cy="329.0" r="1.2"/>
<circle cx="422.2" cy="329.2" r="1.2"/>
<circle cx="424.6" cy="329.2" r="1.2"/>
<circle cx="410.9" cy="329.8" r="1.2"/>
<circle cx="417.0" cy="331.3" r="1.2"/>
<circle cx="423.4" cy="332.1" r="1.2"/>
<circle cx="425.7" cy="331.5" r="1.2"/>
<circle cx="428.6" cy="333.3" r="1.2"/>
<circle cx="429.8" cy="332.7" r="1.2"/>
<circle cx="407.6" cy="334.5" r="1.2"/>
<circle cx="410.0" cy="333.9" r="1.2"/>
<circle cx="416.4" cy="333.9" r="1.2"/>
<circle cx="418.7" cy="335.0" r="1.2"/>
<circle cx="421.1" cy="334.5" r="1.2"/>
<circle cx="423.4" cy="335.0" r="1.2"/>
<circle cx="408.8" cy="336.8" r="1.2"/>
<circle cx="405.9" cy="338.3" r="1.2"/>
<circle cx="411.7" cy="337.4" r="1.2"/>
<circle cx="412.9" cy="338.5" r="1.2"/>
<circle cx="414.1" cy="339.1" r="1.2"/>
<circle cx="415.2" cy="338.0" r="1.2"/>
<circle cx="417.6" cy="338.5" r="1.2"/>
<circle cx="419.3" cy="337.4" r="1.2"/>
<circle cx="421.6" cy="338.5" r="1.2"/>
<circle cx="424.6" cy="338.5" r="1.2"/>
<circle cx="426.9" cy="340.9" r="1.2"/>
<circle cx="429.8" cy="339.1" r="1.2"/>
<circle cx="410.5" cy="340.3" r="1.2"/>
<circle cx="412.3" cy="340.9" r="1.2"/>
<circle cx="414.1" cy="340.3" r="1.2"/>
<circle cx="416.4" cy="340.9" r="1.2"/>
<circle cx="418.7" cy="342.0" r="1.2"/>
<circle cx="383.1" cy="341.5" r="1.2"/>
<circle cx="399.5" cy="341.5" r="1.2"/>
<circle cx="398.9" cy="342.3" r="1.2"/>
<circle cx="372.2" cy="344.1" r="1.2"/>
<circle cx="408.8" cy="343.2" r="1.2"/>
<circle cx="410.5" cy="344.4" r="1.2"/>
<circle cx="411.7" cy="346.1" r="1.2"/>
<circle cx="412.9" cy="345.0" r="1.2"/>
<circle cx="415.2" cy="345.0" r="1.2"/>
<circle cx="420.8" cy="346.9" r="1.2"/>
<circle cx="404.1" cy="347.9" r="1.2"/>
<circle cx="394.8" cy="346.9" r="1.2"/>
<circle cx="394.2" cy="350.2" r="1.2"/>
<circle cx="395.4" cy="351.4" r="1.2"/>
<circle cx="396.5" cy="350.8" r="1.2"/>
<circle cx="398.9" cy="353.1" r="1.2"/>
<circle cx="408.2" cy="349.6" r="1.2"/>
<circle cx="407.6" cy="352.0" r="1.2"/>
<circle cx="414.1" cy="350.2" r="1.2"/>
<circle cx="417.0" cy="350.8" r="1.2"/>
<circle cx="408.8" cy="354.7" r="1.2"/>
<circle cx="388.1" cy="356.1" r="1.2"/>
<circle cx="390.9" cy="356.3" r="1.2"/>
<circle cx="393.0" cy="354.9" r="1.2"/>
<circle cx="399.5" cy="354.9" r="1.2"/>
<circle cx="390.1" cy="360.7" r="1.2"/>
<circle cx="393.0" cy="359.0" r="1.2"/>
<circle cx="393.6" cy="361.9" r="1.2"/>
<circle cx="397.1" cy="360.7" r="1.2"/>
<circle cx="398.9" cy="358.6" r="1.2"/>
<circle cx="405.3" cy="361.3" r="1.2"/>
<circle cx="407.6" cy="361.9" r="1.2"/>
<circle cx="407.0" cy="364.8" r="1.2"/>
<circle cx="391.3" cy="365.4" r="1.2"/>
<circle cx="394.8" cy="365.4" r="1.2"/>
<circle cx="390.7" cy="366.6" r="1.2"/>
<circle cx="387.6" cy="375.7" r="1.2"/>
<circle cx="389.3" cy="378.7" r="1.2"/>
<circle cx="386.4" cy="370.3" r="1.2"/>
<circle cx="380.5" cy="367.6" r="1.2"/>
<circle cx="373.8" cy="372.8" r="1.2"/>
<circle cx="373.9" cy="375.8" r="1.2"/>
<circle cx="375.3" cy="378.9" r="1.2"/>
<circle cx="361.4" cy="384.7" r="1.2"/>
<circle cx="361.0" cy="386.8" r="1.2"/>
<circle cx="366.5" cy="384.4" r="1.2"/>
<circle cx="376.4" cy="384.5" r="1.2"/>
<circle cx="349.2" cy="390.7" r="1.2"/>
<circle cx="352.2" cy="389.2" r="1.2"/>
<circle cx="352.8" cy="391.9" r="1.2"/>
<circle cx="355.5" cy="393.4" r="1.2"/>
<circle cx="358.2" cy="389.3" r="1.2"/>
<circle cx="358.5" cy="390.6" r="1.2"/>
<circle cx="361.6" cy="392.3" r="1.2"/>
<circle cx="363.5" cy="390.8" r="1.2"/>
<circle cx="375.8" cy="387.4" r="1.2"/>
<circle cx="338.5" cy="395.2" r="1.2"/>
<circle cx="339.0" cy="396.1" r="1.2"/>
<circle cx="350.2" cy="396.9" r="1.2"/>
<circle cx="356.8" cy="395.8" r="1.2"/>
<circle cx="359.8" cy="396.6" r="1.2"/>
<circle cx="361.7" cy="400.1" r="1.2"/>
<circle cx="363.2" cy="393.5" r="1.2"/>
<circle cx="342.5" cy="401.6" r="1.2"/>
<circle cx="342.4" cy="400.9" r="1.2"/>
<circle cx="344.7" cy="398.1" r="1.2"/>
<circle cx="347.2" cy="400.6" r="1.2"/>
<circle cx="347.5" cy="402.0" r="1.2"/>
<circle cx="353.6" cy="397.0" r="1.2"/>
<circle cx="335.9" cy="409.9" r="1.2"/>
<circle cx="336.8" cy="407.9" r="1.2"/>
<circle cx="339.6" cy="408.5" r="1.2"/>
<circle cx="341.6" cy="405.2" r="1.2"/>
<circle cx="348.0" cy="405.2" r="1.2"/>
<circle cx="351.5" cy="407.9" r="1.2"/>
<circle cx="335.6" cy="412.4" r="1.2"/>
<circle cx="343.0" cy="409.7" r="1.2"/>
<circle cx="428.5" cy="326.6" r="1.2"/>
<circle cx="424.7" cy="333.5" r="1.2"/>
<circle cx="427.1" cy="332.9" r="1.2"/>
<circle cx="411.2" cy="332.8" r="1.2"/>
<circle cx="420.1" cy="334.9" r="1.2"/>
<circle cx="411.4" cy="339.8" r="1.2"/>
<circle cx="415.2" cy="338.0" r="1.2"/>
<circle cx="411.1" cy="339.8" r="1.2"/>
<circle cx="416.5" cy="339.5" r="1.2"/>
<circle cx="419.0" cy="342.0" r="1.2"/>
<circle cx="411.3" cy="346.9" r="1.2"/>
<circle cx="416.2" cy="345.9" r="1.2"/>
<circle cx="394.9" cy="346.6" r="1.2"/>
<circle cx="394.6" cy="351.3" r="1.2"/>
<circle cx="397.7" cy="353.5" r="1.2"/>
<circle cx="394.1" cy="355.7" r="1.2"/>
<circle cx="391.3" cy="359.8" r="1.2"/>
<circle cx="394.0" cy="358.7" r="1.2"/>
<circle cx="398.2" cy="359.8" r="1.2"/>
<circle cx="391.3" cy="364.9" r="1.2"/>
</g>
<clipPath id="cc1"><rect x="295.1" y="293.6" width="170.1" height="153.39999999999998"/></clipPath>
<line clip-path="url(#cc1)" x1="291.70" y1="443.80" x2="468.50" y2="297.84" stroke="#d0a868" stroke-width="1.2"/>
<rect x="510.80" y="293.60" width="170.10" height="153.40" fill="none" stroke="#222" stroke-width="1.3"/>
<line x1="621.80" y1="293.60" x2="621.80" y2="447.00" stroke="#9a9a9a" stroke-width="1.0" stroke-dasharray="1.5,2.5"/>
<line x1="510.80" y1="346.40" x2="680.90" y2="346.40" stroke="#9a9a9a" stroke-width="1.0" stroke-dasharray="1.5,2.5"/>
<line x1="517.80" y1="447.00" x2="517.80" y2="451.00" stroke="#222" stroke-width="1"/>
<text transform="translate(517.80 463.70) scale(1 1.08)" font-size="9.8" text-anchor="middle" fill="#1a1a1a">&#8722;4</text>
<line x1="510.80" y1="441.80" x2="506.80" y2="441.80" stroke="#222" stroke-width="1"/>
<text transform="translate(502.90 441.80) rotate(-90) scale(1 1.08)" font-size="9.8" text-anchor="middle" fill="#1a1a1a">&#8722;4</text>
<line x1="543.80" y1="447.00" x2="543.80" y2="451.00" stroke="#222" stroke-width="1"/>
<text transform="translate(543.80 463.70) scale(1 1.08)" font-size="9.8" text-anchor="middle" fill="#1a1a1a">&#8722;3</text>
<line x1="510.80" y1="417.95" x2="506.80" y2="417.95" stroke="#222" stroke-width="1"/>
<text transform="translate(502.90 417.95) rotate(-90) scale(1 1.08)" font-size="9.8" text-anchor="middle" fill="#1a1a1a">&#8722;3</text>
<line x1="569.80" y1="447.00" x2="569.80" y2="451.00" stroke="#222" stroke-width="1"/>
<text transform="translate(569.80 463.70) scale(1 1.08)" font-size="9.8" text-anchor="middle" fill="#1a1a1a">&#8722;2</text>
<line x1="510.80" y1="394.10" x2="506.80" y2="394.10" stroke="#222" stroke-width="1"/>
<text transform="translate(502.90 394.10) rotate(-90) scale(1 1.08)" font-size="9.8" text-anchor="middle" fill="#1a1a1a">&#8722;2</text>
<line x1="595.80" y1="447.00" x2="595.80" y2="451.00" stroke="#222" stroke-width="1"/>
<text transform="translate(595.80 463.70) scale(1 1.08)" font-size="9.8" text-anchor="middle" fill="#1a1a1a">&#8722;1</text>
<line x1="510.80" y1="370.25" x2="506.80" y2="370.25" stroke="#222" stroke-width="1"/>
<text transform="translate(502.90 370.25) rotate(-90) scale(1 1.08)" font-size="9.8" text-anchor="middle" fill="#1a1a1a">&#8722;1</text>
<line x1="621.80" y1="447.00" x2="621.80" y2="451.00" stroke="#222" stroke-width="1"/>
<text transform="translate(621.80 463.70) scale(1 1.08)" font-size="9.8" text-anchor="middle" fill="#1a1a1a">0</text>
<line x1="510.80" y1="346.40" x2="506.80" y2="346.40" stroke="#222" stroke-width="1"/>
<text transform="translate(502.90 346.40) rotate(-90) scale(1 1.08)" font-size="9.8" text-anchor="middle" fill="#1a1a1a">0</text>
<line x1="647.80" y1="447.00" x2="647.80" y2="451.00" stroke="#222" stroke-width="1"/>
<text transform="translate(647.80 463.70) scale(1 1.08)" font-size="9.8" text-anchor="middle" fill="#1a1a1a">1</text>
<line x1="510.80" y1="322.55" x2="506.80" y2="322.55" stroke="#222" stroke-width="1"/>
<text transform="translate(502.90 322.55) rotate(-90) scale(1 1.08)" font-size="9.8" text-anchor="middle" fill="#1a1a1a">1</text>
<line x1="673.80" y1="447.00" x2="673.80" y2="451.00" stroke="#222" stroke-width="1"/>
<text transform="translate(673.80 463.70) scale(1 1.08)" font-size="9.8" text-anchor="middle" fill="#1a1a1a">2</text>
<line x1="510.80" y1="298.70" x2="506.80" y2="298.70" stroke="#222" stroke-width="1"/>
<text transform="translate(502.90 298.70) rotate(-90) scale(1 1.08)" font-size="9.8" text-anchor="middle" fill="#1a1a1a">2</text>
<text transform="translate(597.65 477.70) scale(1 1.03)" font-size="10.0" text-anchor="middle" fill="#1a1a1a">sgRNA1 log2 fold change</text>
<text transform="translate(488.90 370.60) rotate(-90) scale(1 1.03)" font-size="9.9" text-anchor="middle" fill="#1a1a1a">sgRNA2 log2 fold change</text>
<text transform="translate(602.85 287.40) scale(1 1.05)" font-size="9.8" text-anchor="middle" fill="#1a1a1a">M7 (x500&#8722;D14/D3)</text>
<text transform="translate(518.80 305.20) scale(1 1.04)" font-size="9.9" text-anchor="start" fill="#1a1a1a">cor: 0.92</text>
<text transform="translate(518.80 315.00) scale(1 1.04)" font-size="9.9" text-anchor="start" fill="#1a1a1a">reg: 0.89</text>
<text transform="translate(518.80 324.80) scale(1 1.04)" font-size="9.9" text-anchor="start" fill="#1a1a1a">n: 316</text>
<g fill="#3f88d4">
<circle cx="598.8" cy="361.1" r="1.2"/>
<circle cx="592.5" cy="363.3" r="1.2"/>
<circle cx="593.8" cy="365.3" r="1.2"/>
<circle cx="595.1" cy="367.2" r="1.2"/>
<circle cx="597.1" cy="366.6" r="1.2"/>
<circle cx="599.7" cy="367.9" r="1.2"/>
<circle cx="584.6" cy="365.0" r="1.2"/>
<circle cx="588.5" cy="366.6" r="1.2"/>
<circle cx="560.7" cy="367.6" r="1.2"/>
<circle cx="574.7" cy="373.5" r="1.2"/>
<circle cx="581.3" cy="374.2" r="1.2"/>
<circle cx="585.9" cy="373.1" r="1.2"/>
<circle cx="590.5" cy="373.8" r="1.2"/>
<circle cx="592.5" cy="375.1" r="1.2"/>
<circle cx="596.4" cy="374.5" r="1.2"/>
<circle cx="599.0" cy="375.8" r="1.2"/>
<circle cx="570.5" cy="376.0" r="1.2"/>
<circle cx="588.5" cy="377.1" r="1.2"/>
<circle cx="589.8" cy="378.4" r="1.2"/>
<circle cx="595.1" cy="377.7" r="1.2"/>
<circle cx="598.4" cy="379.7" r="1.2"/>
<circle cx="599.7" cy="383.0" r="1.2"/>
<circle cx="571.8" cy="380.4" r="1.2"/>
<circle cx="576.7" cy="381.7" r="1.2"/>
<circle cx="582.6" cy="381.0" r="1.2"/>
<circle cx="584.6" cy="383.0" r="1.2"/>
<circle cx="586.5" cy="384.3" r="1.2"/>
<circle cx="588.5" cy="383.6" r="1.2"/>
<circle cx="592.5" cy="381.7" r="1.2"/>
<circle cx="595.1" cy="380.4" r="1.2"/>
<circle cx="597.1" cy="385.0" r="1.2"/>
<circle cx="568.8" cy="382.6" r="1.2"/>
<circle cx="573.4" cy="385.0" r="1.2"/>
<circle cx="579.3" cy="385.0" r="1.2"/>
<circle cx="581.9" cy="386.3" r="1.2"/>
<circle cx="584.6" cy="385.6" r="1.2"/>
<circle cx="587.2" cy="386.9" r="1.2"/>
<circle cx="594.4" cy="385.6" r="1.2"/>
<circle cx="548.8" cy="384.3" r="1.2"/>
<circle cx="546.7" cy="386.3" r="1.2"/>
<circle cx="562.2" cy="386.3" r="1.2"/>
<circle cx="559.0" cy="387.9" r="1.2"/>
<circle cx="560.3" cy="389.2" r="1.2"/>
<circle cx="558.3" cy="390.0" r="1.2"/>
<circle cx="570.8" cy="388.0" r="1.2"/>
<circle cx="572.8" cy="388.9" r="1.2"/>
<circle cx="576.7" cy="389.6" r="1.2"/>
<circle cx="578.7" cy="388.2" r="1.2"/>
<circle cx="580.0" cy="390.9" r="1.2"/>
<circle cx="583.3" cy="390.2" r="1.2"/>
<circle cx="585.2" cy="390.2" r="1.2"/>
<circle cx="591.8" cy="390.9" r="1.2"/>
<circle cx="600.3" cy="390.2" r="1.2"/>
<circle cx="551.1" cy="391.9" r="1.2"/>
<circle cx="564.2" cy="391.5" r="1.2"/>
<circle cx="566.8" cy="392.8" r="1.2"/>
<circle cx="568.8" cy="392.2" r="1.2"/>
<circle cx="571.4" cy="391.5" r="1.2"/>
<circle cx="573.4" cy="392.8" r="1.2"/>
<circle cx="575.4" cy="392.2" r="1.2"/>
<circle cx="578.0" cy="392.8" r="1.2"/>
<circle cx="580.6" cy="394.2" r="1.2"/>
<circle cx="583.3" cy="392.8" r="1.2"/>
<circle cx="589.2" cy="393.5" r="1.2"/>
<circle cx="600.3" cy="394.2" r="1.2"/>
<circle cx="561.6" cy="394.2" r="1.2"/>
<circle cx="563.6" cy="395.5" r="1.2"/>
<circle cx="565.5" cy="394.8" r="1.2"/>
<circle cx="567.5" cy="395.5" r="1.2"/>
<circle cx="570.1" cy="395.5" r="1.2"/>
<circle cx="572.8" cy="394.8" r="1.2"/>
<circle cx="575.4" cy="396.1" r="1.2"/>
<circle cx="579.3" cy="396.8" r="1.2"/>
<circle cx="581.9" cy="397.4" r="1.2"/>
<circle cx="555.0" cy="397.4" r="1.2"/>
<circle cx="557.0" cy="396.5" r="1.2"/>
<circle cx="559.6" cy="398.1" r="1.2"/>
<circle cx="562.9" cy="398.1" r="1.2"/>
<circle cx="566.2" cy="397.4" r="1.2"/>
<circle cx="568.8" cy="396.8" r="1.2"/>
<circle cx="571.4" cy="398.8" r="1.2"/>
<circle cx="574.7" cy="398.1" r="1.2"/>
<circle cx="583.3" cy="400.1" r="1.2"/>
<circle cx="557.0" cy="400.7" r="1.2"/>
<circle cx="559.0" cy="399.4" r="1.2"/>
<circle cx="560.9" cy="401.4" r="1.2"/>
<circle cx="563.6" cy="399.4" r="1.2"/>
<circle cx="567.5" cy="402.0" r="1.2"/>
<circle cx="570.8" cy="400.7" r="1.2"/>
<circle cx="572.8" cy="404.7" r="1.2"/>
<circle cx="578.0" cy="404.7" r="1.2"/>
<circle cx="549.1" cy="403.4" r="1.2"/>
<circle cx="536.6" cy="404.4" r="1.2"/>
<circle cx="542.5" cy="405.6" r="1.2"/>
<circle cx="545.8" cy="406.4" r="1.2"/>
<circle cx="551.7" cy="405.7" r="1.2"/>
<circle cx="557.6" cy="403.4" r="1.2"/>
<circle cx="559.6" cy="404.7" r="1.2"/>
<circle cx="561.6" cy="406.0" r="1.2"/>
<circle cx="563.6" cy="404.0" r="1.2"/>
<circle cx="564.9" cy="407.3" r="1.2"/>
<circle cx="566.2" cy="403.4" r="1.2"/>
<circle cx="568.8" cy="404.7" r="1.2"/>
<circle cx="569.5" cy="406.6" r="1.2"/>
<circle cx="549.1" cy="408.6" r="1.2"/>
<circle cx="539.9" cy="409.9" r="1.2"/>
<circle cx="543.2" cy="409.3" r="1.2"/>
<circle cx="545.2" cy="411.2" r="1.2"/>
<circle cx="548.4" cy="412.6" r="1.2"/>
<circle cx="554.4" cy="412.3" r="1.2"/>
<circle cx="556.3" cy="411.2" r="1.2"/>
<circle cx="558.3" cy="413.2" r="1.2"/>
<circle cx="559.6" cy="411.9" r="1.2"/>
<circle cx="562.9" cy="408.6" r="1.2"/>
<circle cx="568.8" cy="409.9" r="1.2"/>
<circle cx="577.4" cy="410.6" r="1.2"/>
<circle cx="583.9" cy="410.8" r="1.2"/>
<circle cx="589.8" cy="412.9" r="1.2"/>
<circle cx="555.0" cy="415.8" r="1.2"/>
<circle cx="557.0" cy="415.2" r="1.2"/>
<circle cx="559.0" cy="417.5" r="1.2"/>
<circle cx="583.9" cy="417.8" r="1.2"/>
<circle cx="585.2" cy="418.7" r="1.2"/>
<circle cx="523.1" cy="423.7" r="1.2"/>
<circle cx="537.9" cy="421.4" r="1.2"/>
<circle cx="543.6" cy="419.8" r="1.2"/>
<circle cx="547.4" cy="426.6" r="1.2"/>
<circle cx="536.6" cy="430.0" r="1.2"/>
<circle cx="539.2" cy="429.4" r="1.2"/>
<circle cx="563.6" cy="425.4" r="1.2"/>
<circle cx="567.1" cy="425.3" r="1.2"/>
<circle cx="636.9" cy="321.6" r="1.2"/>
<circle cx="625.5" cy="323.9" r="1.2"/>
<circle cx="638.4" cy="326.6" r="1.2"/>
<circle cx="646.0" cy="325.7" r="1.2"/>
<circle cx="645.4" cy="328.0" r="1.2"/>
<circle cx="634.9" cy="329.8" r="1.2"/>
<circle cx="637.8" cy="329.8" r="1.2"/>
<circle cx="640.7" cy="329.8" r="1.2"/>
<circle cx="643.6" cy="330.9" r="1.2"/>
<circle cx="644.8" cy="330.6" r="1.2"/>
<circle cx="626.7" cy="331.5" r="1.2"/>
<circle cx="629.1" cy="332.7" r="1.2"/>
<circle cx="631.4" cy="332.1" r="1.2"/>
<circle cx="633.1" cy="333.3" r="1.2"/>
<circle cx="635.5" cy="332.7" r="1.2"/>
<circle cx="637.2" cy="333.9" r="1.2"/>
<circle cx="625.0" cy="333.9" r="1.2"/>
<circle cx="627.9" cy="334.5" r="1.2"/>
<circle cx="630.2" cy="334.5" r="1.2"/>
<circle cx="632.0" cy="335.0" r="1.2"/>
<circle cx="634.3" cy="335.0" r="1.2"/>
<circle cx="636.6" cy="335.6" r="1.2"/>
<circle cx="639.0" cy="335.0" r="1.2"/>
<circle cx="621.5" cy="335.0" r="1.2"/>
<circle cx="622.0" cy="336.8" r="1.2"/>
<circle cx="625.5" cy="336.8" r="1.2"/>
<circle cx="629.6" cy="336.8" r="1.2"/>
<circle cx="631.4" cy="337.4" r="1.2"/>
<circle cx="633.7" cy="337.4" r="1.2"/>
<circle cx="635.5" cy="336.2" r="1.2"/>
<circle cx="639.6" cy="338.0" r="1.2"/>
<circle cx="641.9" cy="338.5" r="1.2"/>
<circle cx="622.0" cy="339.1" r="1.2"/>
<circle cx="625.0" cy="341.5" r="1.2"/>
<circle cx="626.7" cy="340.9" r="1.2"/>
<circle cx="628.5" cy="341.5" r="1.2"/>
<circle cx="631.4" cy="340.9" r="1.2"/>
<circle cx="633.1" cy="340.3" r="1.2"/>
<circle cx="635.5" cy="340.3" r="1.2"/>
<circle cx="637.2" cy="340.9" r="1.2"/>
<circle cx="625.0" cy="343.2" r="1.2"/>
<circle cx="634.9" cy="344.4" r="1.2"/>
<circle cx="637.2" cy="345.0" r="1.2"/>
<circle cx="620.9" cy="344.1" r="1.2"/>
<circle cx="615.6" cy="343.0" r="1.2"/>
<circle cx="608.0" cy="345.5" r="1.2"/>
<circle cx="616.2" cy="347.1" r="1.2"/>
<circle cx="627.9" cy="347.3" r="1.2"/>
<circle cx="629.6" cy="346.7" r="1.2"/>
<circle cx="631.4" cy="346.1" r="1.2"/>
<circle cx="618.5" cy="349.6" r="1.2"/>
<circle cx="621.5" cy="350.2" r="1.2"/>
<circle cx="623.8" cy="351.4" r="1.2"/>
<circle cx="625.5" cy="350.8" r="1.2"/>
<circle cx="627.3" cy="349.6" r="1.2"/>
<circle cx="630.8" cy="350.8" r="1.2"/>
<circle cx="633.7" cy="352.6" r="1.2"/>
<circle cx="634.9" cy="354.9" r="1.2"/>
<circle cx="621.5" cy="354.9" r="1.2"/>
<circle cx="593.4" cy="353.1" r="1.2"/>
<circle cx="600.4" cy="354.9" r="1.2"/>
<circle cx="603.9" cy="351.4" r="1.2"/>
<circle cx="604.5" cy="353.7" r="1.2"/>
<circle cx="610.4" cy="353.7" r="1.2"/>
<circle cx="610.9" cy="354.9" r="1.2"/>
<circle cx="602.8" cy="357.2" r="1.2"/>
<circle cx="608.0" cy="357.8" r="1.2"/>
<circle cx="606.9" cy="359.0" r="1.2"/>
<circle cx="605.1" cy="361.3" r="1.2"/>
<circle cx="611.5" cy="360.1" r="1.2"/>
<circle cx="616.2" cy="359.6" r="1.2"/>
<circle cx="618.5" cy="361.9" r="1.2"/>
<circle cx="619.7" cy="364.8" r="1.2"/>
<circle cx="610.9" cy="364.0" r="1.2"/>
<circle cx="601.0" cy="363.1" r="1.2"/>
<circle cx="602.0" cy="376.7" r="1.2"/>
<circle cx="603.4" cy="377.0" r="1.2"/>
<circle cx="605.5" cy="379.2" r="1.2"/>
<circle cx="608.1" cy="379.2" r="1.2"/>
<circle cx="612.8" cy="378.1" r="1.2"/>
<circle cx="616.8" cy="376.3" r="1.2"/>
<circle cx="605.2" cy="383.1" r="1.2"/>
<circle cx="617.4" cy="383.3" r="1.2"/>
<circle cx="601.4" cy="382.5" r="1.2"/>
<circle cx="605.5" cy="388.4" r="1.2"/>
<circle cx="606.9" cy="388.0" r="1.2"/>
<circle cx="617.4" cy="390.3" r="1.2"/>
<circle cx="601.1" cy="390.1" r="1.2"/>
<circle cx="601.4" cy="394.2" r="1.2"/>
<circle cx="616.6" cy="408.2" r="1.2"/>
<circle cx="592.4" cy="376.4" r="1.2"/>
<circle cx="588.4" cy="376.3" r="1.2"/>
<circle cx="597.5" cy="379.0" r="1.2"/>
<circle cx="585.5" cy="381.9" r="1.2"/>
<circle cx="587.0" cy="384.8" r="1.2"/>
<circle cx="591.6" cy="383.1" r="1.2"/>
<circle cx="574.8" cy="385.1" r="1.2"/>
<circle cx="583.3" cy="386.8" r="1.2"/>
<circle cx="558.5" cy="386.9" r="1.2"/>
<circle cx="559.0" cy="388.6" r="1.2"/>
<circle cx="573.3" cy="388.4" r="1.2"/>
<circle cx="577.6" cy="389.5" r="1.2"/>
<circle cx="578.6" cy="388.9" r="1.2"/>
<circle cx="581.4" cy="389.4" r="1.2"/>
<circle cx="601.2" cy="389.8" r="1.2"/>
<circle cx="565.5" cy="391.9" r="1.2"/>
<circle cx="572.2" cy="392.8" r="1.2"/>
<circle cx="574.9" cy="392.3" r="1.2"/>
<circle cx="581.4" cy="395.1" r="1.2"/>
<circle cx="601.7" cy="392.9" r="1.2"/>
<circle cx="561.9" cy="395.4" r="1.2"/>
<circle cx="564.8" cy="395.6" r="1.2"/>
<circle cx="565.0" cy="393.9" r="1.2"/>
<circle cx="566.4" cy="396.0" r="1.2"/>
<circle cx="571.4" cy="396.3" r="1.2"/>
<circle cx="578.5" cy="397.1" r="1.2"/>
<circle cx="554.8" cy="396.1" r="1.2"/>
<circle cx="559.6" cy="399.1" r="1.2"/>
<circle cx="563.6" cy="399.5" r="1.2"/>
<circle cx="571.2" cy="397.7" r="1.2"/>
<circle cx="556.8" cy="402.2" r="1.2"/>
<circle cx="563.5" cy="400.1" r="1.2"/>
<circle cx="566.9" cy="401.8" r="1.2"/>
<circle cx="570.4" cy="402.2" r="1.2"/>
<circle cx="557.2" cy="402.1" r="1.2"/>
<circle cx="560.5" cy="405.8" r="1.2"/>
<circle cx="562.4" cy="406.8" r="1.2"/>
<circle cx="569.4" cy="404.0" r="1.2"/>
<circle cx="570.3" cy="407.2" r="1.2"/>
<circle cx="550.4" cy="409.1" r="1.2"/>
<circle cx="545.3" cy="410.5" r="1.2"/>
<circle cx="557.3" cy="411.7" r="1.2"/>
<circle cx="560.0" cy="412.6" r="1.2"/>
<circle cx="556.0" cy="416.9" r="1.2"/>
<circle cx="638.8" cy="331.1" r="1.2"/>
<circle cx="641.3" cy="330.4" r="1.2"/>
<circle cx="645.7" cy="330.8" r="1.2"/>
<circle cx="629.4" cy="333.5" r="1.2"/>
<circle cx="634.5" cy="332.5" r="1.2"/>
<circle cx="625.5" cy="334.3" r="1.2"/>
<circle cx="627.8" cy="333.6" r="1.2"/>
<circle cx="629.1" cy="333.9" r="1.2"/>
<circle cx="631.1" cy="333.6" r="1.2"/>
<circle cx="633.9" cy="335.4" r="1.2"/>
<circle cx="640.2" cy="333.5" r="1.2"/>
<circle cx="620.8" cy="334.8" r="1.2"/>
<circle cx="623.0" cy="336.4" r="1.2"/>
<circle cx="625.9" cy="335.6" r="1.2"/>
<circle cx="631.6" cy="338.7" r="1.2"/>
<circle cx="636.4" cy="336.6" r="1.2"/>
<circle cx="638.5" cy="338.2" r="1.2"/>
<circle cx="632.6" cy="339.4" r="1.2"/>
<circle cx="633.3" cy="340.6" r="1.2"/>
<circle cx="635.9" cy="341.5" r="1.2"/>
<circle cx="637.0" cy="340.1" r="1.2"/>
<circle cx="626.4" cy="342.9" r="1.2"/>
<circle cx="631.1" cy="346.7" r="1.2"/>
<circle cx="630.8" cy="347.6" r="1.2"/>
<circle cx="620.8" cy="350.1" r="1.2"/>
<circle cx="624.2" cy="351.2" r="1.2"/>
<circle cx="626.4" cy="351.8" r="1.2"/>
<circle cx="627.4" cy="349.0" r="1.2"/>
<circle cx="603.8" cy="352.7" r="1.2"/>
<circle cx="608.4" cy="357.7" r="1.2"/>
<circle cx="601.8" cy="362.5" r="1.2"/>
<circle cx="602.8" cy="377.1" r="1.2"/>
<circle cx="605.1" cy="380.0" r="1.2"/>
<circle cx="604.4" cy="383.0" r="1.2"/>
</g>
<clipPath id="cc2"><rect x="510.8" y="293.6" width="170.1" height="153.39999999999998"/></clipPath>
<line clip-path="url(#cc2)" x1="507.40" y1="439.49" x2="684.20" y2="298.39" stroke="#d0a868" stroke-width="1.2"/>
<rect x="79.40" y="520.40" width="164.80" height="138.10" fill="none" stroke="#383838" stroke-width="1.3"/>
<line x1="238.10" y1="658.50" x2="238.10" y2="663.00" stroke="#222" stroke-width="1"/>
<text transform="translate(239.60 675.40) scale(1 1.1)" font-size="10.5" text-anchor="middle" fill="#1a1a1a">0.0</text>
<line x1="79.40" y1="653.40" x2="74.90" y2="653.40" stroke="#222" stroke-width="1"/>
<text transform="translate(69.00 653.40) rotate(-90) scale(1 1.1)" font-size="10.5" text-anchor="middle" fill="#1a1a1a">0.0</text>
<line x1="207.58" y1="658.50" x2="207.58" y2="663.00" stroke="#222" stroke-width="1"/>
<text transform="translate(209.08 675.40) scale(1 1.1)" font-size="10.5" text-anchor="middle" fill="#1a1a1a">0.2</text>
<line x1="79.40" y1="627.78" x2="74.90" y2="627.78" stroke="#222" stroke-width="1"/>
<text transform="translate(69.00 627.78) rotate(-90) scale(1 1.1)" font-size="10.5" text-anchor="middle" fill="#1a1a1a">0.2</text>
<line x1="177.06" y1="658.50" x2="177.06" y2="663.00" stroke="#222" stroke-width="1"/>
<text transform="translate(178.56 675.40) scale(1 1.1)" font-size="10.5" text-anchor="middle" fill="#1a1a1a">0.4</text>
<line x1="79.40" y1="602.16" x2="74.90" y2="602.16" stroke="#222" stroke-width="1"/>
<text transform="translate(69.00 602.16) rotate(-90) scale(1 1.1)" font-size="10.5" text-anchor="middle" fill="#1a1a1a">0.4</text>
<line x1="146.54" y1="658.50" x2="146.54" y2="663.00" stroke="#222" stroke-width="1"/>
<text transform="translate(148.04 675.40) scale(1 1.1)" font-size="10.5" text-anchor="middle" fill="#1a1a1a">0.6</text>
<line x1="79.40" y1="576.54" x2="74.90" y2="576.54" stroke="#222" stroke-width="1"/>
<text transform="translate(69.00 576.54) rotate(-90) scale(1 1.1)" font-size="10.5" text-anchor="middle" fill="#1a1a1a">0.6</text>
<line x1="116.02" y1="658.50" x2="116.02" y2="663.00" stroke="#222" stroke-width="1"/>
<text transform="translate(117.52 675.40) scale(1 1.1)" font-size="10.5" text-anchor="middle" fill="#1a1a1a">0.8</text>
<line x1="79.40" y1="550.92" x2="74.90" y2="550.92" stroke="#222" stroke-width="1"/>
<text transform="translate(69.00 550.92) rotate(-90) scale(1 1.1)" font-size="10.5" text-anchor="middle" fill="#1a1a1a">0.8</text>
<line x1="85.50" y1="658.50" x2="85.50" y2="663.00" stroke="#222" stroke-width="1"/>
<text transform="translate(87.00 675.40) scale(1 1.1)" font-size="10.5" text-anchor="middle" fill="#1a1a1a">1.0</text>
<line x1="79.40" y1="525.30" x2="74.90" y2="525.30" stroke="#222" stroke-width="1"/>
<text transform="translate(69.00 525.30) rotate(-90) scale(1 1.1)" font-size="10.5" text-anchor="middle" fill="#1a1a1a">1.0</text>
<text transform="translate(161.30 692.30)" font-size="11.2" text-anchor="middle" fill="#1a1a1a">Sensitivity</text>
<text transform="translate(51.70 589.30) rotate(-90)" font-size="11.2" text-anchor="middle" fill="#1a1a1a">Specificity</text>
<text transform="translate(160.80 505.60)" font-size="11.1" text-anchor="middle" fill="#1a1a1a">PILOT_500X_D14_WT</text>
<polyline points="85.50,653.40 87.03,653.40 87.94,544.26 93.13,539.01 97.56,536.44 102.90,535.16 109.00,534.27 116.94,533.75 120.45,533.37 128.38,533.37 137.08,532.47 150.20,531.70 159.05,529.40 179.35,527.99 201.48,526.97 223.60,525.94 236.57,525.30 238.10,525.30" fill="none" stroke="#ff7f0e" stroke-width="1.0" stroke-linejoin="round"/>
<polyline points="85.50,653.40 87.03,653.40 88.25,531.58 93.13,528.50 100.15,527.22 113.43,526.84 146.54,526.58 149.59,525.30 238.10,525.30" fill="none" stroke="#ffbb78" stroke-width="1.0" stroke-linejoin="round"/>
<polyline points="85.50,653.40 85.96,653.40 87.03,527.22 92.67,527.22 92.67,525.30 238.10,525.30" fill="none" stroke="#2ca02c" stroke-width="1.0" stroke-linejoin="round"/>
<polyline points="85.50,653.40 87.03,653.40 88.25,546.95 91.60,546.95 91.60,546.56 93.13,546.56 93.13,543.49 94.50,543.49 94.50,540.80 96.18,540.80 96.18,539.52 101.07,539.52 101.07,539.01 102.90,539.01 102.90,536.83 105.03,536.83 105.03,535.55 105.49,535.55 105.49,534.65 119.53,534.65 119.53,533.75 119.99,533.75 119.99,532.47 136.16,532.47 136.16,531.96 137.08,531.96 137.08,529.78 146.54,529.78 146.54,529.40 148.07,529.40 148.07,526.07 179.35,526.07 179.35,526.07 180.11,526.07 180.11,525.30 238.10,525.30 238.10,525.30" fill="none" stroke="#98df8a" stroke-width="1.0" stroke-linejoin="round"/>
<polyline points="85.50,653.40 175.53,653.40 177.06,652.63 207.58,652.38 232.45,653.02 234.59,639.82 236.27,626.50 236.80,593.19 237.95,571.42 238.10,525.30" fill="none" stroke="#2e3076" stroke-width="1.0" stroke-linejoin="round"/>
<polyline points="85.50,653.40 215.21,653.40 222.38,650.84 229.10,637.64 231.23,626.50 233.06,593.19 234.13,576.54 234.74,558.61 237.79,525.30 238.10,525.30" fill="none" stroke="#1f77b4" stroke-width="1.0" stroke-linejoin="round"/>
<polyline points="85.50,653.40 215.21,653.40 224.06,651.35 230.78,639.82 232.45,626.50 233.52,598.32 235.20,559.89 237.79,525.30 238.10,525.30" fill="none" stroke="#7a6fc2" stroke-width="1.0" stroke-linejoin="round"/>
<polyline points="237.95,571.42 238.10,525.30" fill="none" stroke="#8f88c6" stroke-width="1.0" stroke-linejoin="round"/>
<polyline points="85.50,653.40 87.03,653.40 88.25,539.01 91.60,535.04 95.88,532.47 101.98,531.06 110.68,530.30 119.53,530.30 129.14,529.78 137.08,529.40 150.20,529.01 179.35,527.48 201.48,526.45 225.89,525.56 238.10,525.30" fill="none" stroke="#7f7f7f" stroke-width="1.0" stroke-dasharray="3,2.5" stroke-linejoin="round"/>
<rect x="298.00" y="520.40" width="164.80" height="138.10" fill="none" stroke="#383838" stroke-width="1.3"/>
<line x1="456.70" y1="658.50" x2="456.70" y2="663.00" stroke="#222" stroke-width="1"/>
<text transform="translate(458.20 675.40) scale(1 1.1)" font-size="10.5" text-anchor="middle" fill="#1a1a1a">0.0</text>
<line x1="298.00" y1="653.40" x2="293.50" y2="653.40" stroke="#222" stroke-width="1"/>
<text transform="translate(287.60 653.40) rotate(-90) scale(1 1.1)" font-size="10.5" text-anchor="middle" fill="#1a1a1a">0.0</text>
<line x1="426.18" y1="658.50" x2="426.18" y2="663.00" stroke="#222" stroke-width="1"/>
<text transform="translate(427.68 675.40) scale(1 1.1)" font-size="10.5" text-anchor="middle" fill="#1a1a1a">0.2</text>
<line x1="298.00" y1="627.78" x2="293.50" y2="627.78" stroke="#222" stroke-width="1"/>
<text transform="translate(287.60 627.78) rotate(-90) scale(1 1.1)" font-size="10.5" text-anchor="middle" fill="#1a1a1a">0.2</text>
<line x1="395.66" y1="658.50" x2="395.66" y2="663.00" stroke="#222" stroke-width="1"/>
<text transform="translate(397.16 675.40) scale(1 1.1)" font-size="10.5" text-anchor="middle" fill="#1a1a1a">0.4</text>
<line x1="298.00" y1="602.16" x2="293.50" y2="602.16" stroke="#222" stroke-width="1"/>
<text transform="translate(287.60 602.16) rotate(-90) scale(1 1.1)" font-size="10.5" text-anchor="middle" fill="#1a1a1a">0.4</text>
<line x1="365.14" y1="658.50" x2="365.14" y2="663.00" stroke="#222" stroke-width="1"/>
<text transform="translate(366.64 675.40) scale(1 1.1)" font-size="10.5" text-anchor="middle" fill="#1a1a1a">0.6</text>
<line x1="298.00" y1="576.54" x2="293.50" y2="576.54" stroke="#222" stroke-width="1"/>
<text transform="translate(287.60 576.54) rotate(-90) scale(1 1.1)" font-size="10.5" text-anchor="middle" fill="#1a1a1a">0.6</text>
<line x1="334.62" y1="658.50" x2="334.62" y2="663.00" stroke="#222" stroke-width="1"/>
<text transform="translate(336.12 675.40) scale(1 1.1)" font-size="10.5" text-anchor="middle" fill="#1a1a1a">0.8</text>
<line x1="298.00" y1="550.92" x2="293.50" y2="550.92" stroke="#222" stroke-width="1"/>
<text transform="translate(287.60 550.92) rotate(-90) scale(1 1.1)" font-size="10.5" text-anchor="middle" fill="#1a1a1a">0.8</text>
<line x1="304.10" y1="658.50" x2="304.10" y2="663.00" stroke="#222" stroke-width="1"/>
<text transform="translate(305.60 675.40) scale(1 1.1)" font-size="10.5" text-anchor="middle" fill="#1a1a1a">1.0</text>
<line x1="298.00" y1="525.30" x2="293.50" y2="525.30" stroke="#222" stroke-width="1"/>
<text transform="translate(287.60 525.30) rotate(-90) scale(1 1.1)" font-size="10.5" text-anchor="middle" fill="#1a1a1a">1.0</text>
<text transform="translate(379.90 692.30)" font-size="11.2" text-anchor="middle" fill="#1a1a1a">Sensitivity</text>
<text transform="translate(270.30 589.30) rotate(-90)" font-size="11.2" text-anchor="middle" fill="#1a1a1a">Specificity</text>
<text transform="translate(379.40 505.60)" font-size="11.1" text-anchor="middle" fill="#1a1a1a">PILOT_500X_D14_M6</text>
<polyline points="304.10,653.40 304.86,653.40 305.02,539.01 306.54,531.96 308.37,530.81 313.10,529.66 321.34,528.50 327.14,527.61 348.20,527.86 350.64,527.09 378.11,526.20 410.92,525.68 441.44,525.30 456.70,525.30" fill="none" stroke="#ff7f0e" stroke-width="1.0" stroke-linejoin="round"/>
<polyline points="304.10,653.40 304.86,653.40 305.17,534.27 307.15,531.06 311.73,529.40 319.36,528.12 334.62,527.22 365.14,526.58 395.66,525.94 426.18,525.30 456.70,525.30" fill="none" stroke="#ffbb78" stroke-width="1.0" stroke-linejoin="round"/>
<polyline points="304.10,653.40 304.71,653.40 304.86,527.35 309.44,527.35 309.44,529.14 309.44,527.35 317.22,527.35 317.22,525.30 456.70,525.30" fill="none" stroke="#2ca02c" stroke-width="1.0" stroke-linejoin="round"/>
<polyline points="304.10,653.40 304.71,653.40 304.86,528.50 309.44,528.50 309.44,527.35 317.22,527.35 317.22,525.30 456.70,525.30" fill="none" stroke="#98df8a" stroke-width="1.0" stroke-linejoin="round"/>
<polyline points="304.10,653.40 394.13,653.40 395.66,652.76 441.44,652.38 451.36,653.40 455.17,650.84 456.39,634.18 456.70,581.66 456.70,525.30" fill="none" stroke="#2e3076" stroke-width="1.0" stroke-linejoin="round"/>
<polyline points="304.10,653.40 444.49,653.40 448.31,651.86 451.36,642.51 453.65,629.06 454.72,573.98 456.09,535.55 456.70,525.30" fill="none" stroke="#1f77b4" stroke-width="1.0" stroke-linejoin="round"/>
<polyline points="304.10,653.40 446.02,653.40 449.83,652.76 452.88,640.59 455.17,629.06 456.39,566.29 456.70,525.30" fill="none" stroke="#7a6fc2" stroke-width="1.0" stroke-linejoin="round"/>
<polyline points="456.70,581.66 456.70,525.30" fill="none" stroke="#8f88c6" stroke-width="1.0" stroke-linejoin="round"/>
<polyline points="304.10,653.40 305.78,653.40 305.93,538.11 306.54,531.96 307.76,530.42 314.78,528.89 327.14,527.61 365.14,526.58 378.11,526.20 410.92,525.68 456.70,525.30" fill="none" stroke="#7f7f7f" stroke-width="1.0" stroke-dasharray="3,2.5" stroke-linejoin="round"/>
<rect x="516.40" y="520.40" width="164.80" height="138.10" fill="none" stroke="#383838" stroke-width="1.3"/>
<line x1="675.10" y1="658.50" x2="675.10" y2="663.00" stroke="#222" stroke-width="1"/>
<text transform="translate(676.60 675.40) scale(1 1.1)" font-size="10.5" text-anchor="middle" fill="#1a1a1a">0.0</text>
<line x1="516.40" y1="653.40" x2="511.90" y2="653.40" stroke="#222" stroke-width="1"/>
<text transform="translate(506.00 653.40) rotate(-90) scale(1 1.1)" font-size="10.5" text-anchor="middle" fill="#1a1a1a">0.0</text>
<line x1="644.58" y1="658.50" x2="644.58" y2="663.00" stroke="#222" stroke-width="1"/>
<text transform="translate(646.08 675.40) scale(1 1.1)" font-size="10.5" text-anchor="middle" fill="#1a1a1a">0.2</text>
<line x1="516.40" y1="627.78" x2="511.90" y2="627.78" stroke="#222" stroke-width="1"/>
<text transform="translate(506.00 627.78) rotate(-90) scale(1 1.1)" font-size="10.5" text-anchor="middle" fill="#1a1a1a">0.2</text>
<line x1="614.06" y1="658.50" x2="614.06" y2="663.00" stroke="#222" stroke-width="1"/>
<text transform="translate(615.56 675.40) scale(1 1.1)" font-size="10.5" text-anchor="middle" fill="#1a1a1a">0.4</text>
<line x1="516.40" y1="602.16" x2="511.90" y2="602.16" stroke="#222" stroke-width="1"/>
<text transform="translate(506.00 602.16) rotate(-90) scale(1 1.1)" font-size="10.5" text-anchor="middle" fill="#1a1a1a">0.4</text>
<line x1="583.54" y1="658.50" x2="583.54" y2="663.00" stroke="#222" stroke-width="1"/>
<text transform="translate(585.04 675.40) scale(1 1.1)" font-size="10.5" text-anchor="middle" fill="#1a1a1a">0.6</text>
<line x1="516.40" y1="576.54" x2="511.90" y2="576.54" stroke="#222" stroke-width="1"/>
<text transform="translate(506.00 576.54) rotate(-90) scale(1 1.1)" font-size="10.5" text-anchor="middle" fill="#1a1a1a">0.6</text>
<line x1="553.02" y1="658.50" x2="553.02" y2="663.00" stroke="#222" stroke-width="1"/>
<text transform="translate(554.52 675.40) scale(1 1.1)" font-size="10.5" text-anchor="middle" fill="#1a1a1a">0.8</text>
<line x1="516.40" y1="550.92" x2="511.90" y2="550.92" stroke="#222" stroke-width="1"/>
<text transform="translate(506.00 550.92) rotate(-90) scale(1 1.1)" font-size="10.5" text-anchor="middle" fill="#1a1a1a">0.8</text>
<line x1="522.50" y1="658.50" x2="522.50" y2="663.00" stroke="#222" stroke-width="1"/>
<text transform="translate(524.00 675.40) scale(1 1.1)" font-size="10.5" text-anchor="middle" fill="#1a1a1a">1.0</text>
<line x1="516.40" y1="525.30" x2="511.90" y2="525.30" stroke="#222" stroke-width="1"/>
<text transform="translate(506.00 525.30) rotate(-90) scale(1 1.1)" font-size="10.5" text-anchor="middle" fill="#1a1a1a">1.0</text>
<text transform="translate(598.30 692.30)" font-size="11.2" text-anchor="middle" fill="#1a1a1a">Sensitivity</text>
<text transform="translate(488.70 589.30) rotate(-90)" font-size="11.2" text-anchor="middle" fill="#1a1a1a">Specificity</text>
<text transform="translate(597.80 505.60)" font-size="11.1" text-anchor="middle" fill="#1a1a1a">PILOT_500X_D14_M7</text>
<polyline points="522.50,653.40 524.03,653.40 524.33,541.44 526.16,535.55 529.06,532.60 533.49,530.81 540.81,529.66 552.56,529.01 564.31,528.50 574.54,527.86 589.19,526.84 616.35,525.56 644.58,525.30 675.10,525.30" fill="none" stroke="#ff7f0e" stroke-width="1.0" stroke-linejoin="round"/>
<polyline points="522.50,653.40 523.26,653.40 523.57,538.11 526.16,531.70 530.59,529.40 545.24,527.86 574.54,526.84 614.06,525.81 675.10,525.30" fill="none" stroke="#ffbb78" stroke-width="1.0" stroke-linejoin="round"/>
<polyline points="522.50,653.40 522.50,653.40 522.50,532.35 527.69,532.35 527.69,527.48 544.47,527.48 544.47,525.30 589.80,525.30 589.80,526.84 598.80,526.58 629.32,525.94 675.10,525.30" fill="none" stroke="#2ca02c" stroke-width="1.0" stroke-linejoin="round"/>
<polyline points="522.50,653.40 522.96,653.40 523.26,532.60 527.69,529.66 537.76,528.50 544.47,527.48 589.64,526.84 629.32,525.94 675.10,525.30" fill="none" stroke="#98df8a" stroke-width="1.0" stroke-linejoin="round"/>
<polyline points="522.50,653.40 627.79,653.40 629.32,652.63 659.84,652.38 672.66,653.40 674.34,640.59 675.10,581.66 675.10,525.30" fill="none" stroke="#2e3076" stroke-width="1.0" stroke-linejoin="round"/>
<polyline points="522.50,653.40 629.32,653.40 629.32,652.76 658.31,652.38 662.59,649.56 665.64,646.35 668.84,640.59 671.13,634.70 672.66,597.04 673.57,573.98 675.10,567.57 675.10,525.30" fill="none" stroke="#1f77b4" stroke-width="1.0" stroke-linejoin="round"/>
<polyline points="522.50,653.40 658.77,653.40 666.40,650.20 670.37,640.59 672.35,612.41 674.34,581.66 675.10,563.73 675.10,525.30" fill="none" stroke="#7a6fc2" stroke-width="1.0" stroke-linejoin="round"/>
<polyline points="675.10,581.66 675.10,525.30" fill="none" stroke="#8f88c6" stroke-width="1.0" stroke-linejoin="round"/>
<polyline points="522.50,653.40 524.03,653.40 524.03,532.60 526.16,530.42 530.59,529.01 545.24,527.48 574.54,526.84 616.35,525.56 675.10,525.30" fill="none" stroke="#7f7f7f" stroke-width="1.0" stroke-dasharray="3,2.5" stroke-linejoin="round"/>
<rect x="517.80" y="705.60" width="165.80" height="161.20" fill="none" stroke="#808080" stroke-width="1.0"/>
<line x1="677.00" y1="866.80" x2="677.00" y2="871.80" stroke="#808080" stroke-width="1"/>
<text transform="translate(677.00 882.80)" font-size="11.0" text-anchor="middle" fill="#1a1a1a">0.0</text>
<line x1="517.80" y1="861.00" x2="513.30" y2="861.00" stroke="#808080" stroke-width="1"/>
<text transform="translate(506.50 861.00) rotate(-90)" font-size="11.0" text-anchor="middle" fill="#1a1a1a">0.0</text>
<line x1="646.40" y1="866.80" x2="646.40" y2="871.80" stroke="#808080" stroke-width="1"/>
<text transform="translate(646.40 882.80)" font-size="11.0" text-anchor="middle" fill="#1a1a1a">0.2</text>
<line x1="517.80" y1="831.06" x2="513.30" y2="831.06" stroke="#808080" stroke-width="1"/>
<text transform="translate(506.50 831.06) rotate(-90)" font-size="11.0" text-anchor="middle" fill="#1a1a1a">0.2</text>
<line x1="615.80" y1="866.80" x2="615.80" y2="871.80" stroke="#808080" stroke-width="1"/>
<text transform="translate(615.80 882.80)" font-size="11.0" text-anchor="middle" fill="#1a1a1a">0.4</text>
<line x1="517.80" y1="801.12" x2="513.30" y2="801.12" stroke="#808080" stroke-width="1"/>
<text transform="translate(506.50 801.12) rotate(-90)" font-size="11.0" text-anchor="middle" fill="#1a1a1a">0.4</text>
<line x1="585.20" y1="866.80" x2="585.20" y2="871.80" stroke="#808080" stroke-width="1"/>
<text transform="translate(585.20 882.80)" font-size="11.0" text-anchor="middle" fill="#1a1a1a">0.6</text>
<line x1="517.80" y1="771.18" x2="513.30" y2="771.18" stroke="#808080" stroke-width="1"/>
<text transform="translate(506.50 771.18) rotate(-90)" font-size="11.0" text-anchor="middle" fill="#1a1a1a">0.6</text>
<line x1="554.60" y1="866.80" x2="554.60" y2="871.80" stroke="#808080" stroke-width="1"/>
<text transform="translate(554.60 882.80)" font-size="11.0" text-anchor="middle" fill="#1a1a1a">0.8</text>
<line x1="517.80" y1="741.24" x2="513.30" y2="741.24" stroke="#808080" stroke-width="1"/>
<text transform="translate(506.50 741.24) rotate(-90)" font-size="11.0" text-anchor="middle" fill="#1a1a1a">0.8</text>
<line x1="524.00" y1="866.80" x2="524.00" y2="871.80" stroke="#808080" stroke-width="1"/>
<text transform="translate(524.00 882.80)" font-size="11.0" text-anchor="middle" fill="#1a1a1a">1.0</text>
<line x1="517.80" y1="711.30" x2="513.30" y2="711.30" stroke="#808080" stroke-width="1"/>
<text transform="translate(506.50 711.30) rotate(-90)" font-size="11.0" text-anchor="middle" fill="#1a1a1a">1.0</text>
<text transform="translate(610.60 900.60)" font-size="11.1" text-anchor="middle" fill="#1a1a1a">Sensitivity</text>
<text transform="translate(489.20 785.00) rotate(-90)" font-size="11.1" text-anchor="middle" fill="#1a1a1a">Specificity</text>
<text transform="translate(605.00 767.60)" font-size="11.1" text-anchor="middle" fill="#1a1a1a">HT29 single gRNA</text>
<text transform="translate(610.20 831.70)" font-size="11.1" text-anchor="middle" fill="#1a1a1a">AUC: 0.979</text>
<rect x="564" y="838.6" width="8.8" height="8.8" fill="#ff7f0e"/>
<text transform="translate(576.00 846.60)" font-size="11.1" text-anchor="start" fill="#1a1a1a">Essential genes</text>
<polyline points="523.60,861.00 525.10,799.80 526.00,775.30 528.30,740.50 531.10,723.50 533.50,718.80 536.40,714.70 540.10,712.20 548.60,712.20 550.50,711.20 678.30,711.20" fill="none" stroke="#ff7f0e" stroke-width="2.4" stroke-linejoin="round"/>
<line x1="67.30" y1="721.00" x2="207.00" y2="721.00" stroke="#5a5a5a" stroke-width="1.8"/>
<line x1="207.00" y1="721.00" x2="414.00" y2="721.00" stroke="#5a5a5a" stroke-width="1.5"/>
<line x1="67.30" y1="737.20" x2="161.00" y2="737.20" stroke="#5a5a5a" stroke-width="2.0"/>
<line x1="161.00" y1="737.20" x2="414.00" y2="737.20" stroke="#666" stroke-width="1.5"/>
<line x1="67.30" y1="867.40" x2="414.00" y2="867.40" stroke="#5a5a5a" stroke-width="1.8"/>
<text transform="translate(251.80 717.60) scale(1 1.07)" font-size="9.65" text-anchor="middle" fill="#1a1a1a">Wildtype</text>
<text transform="translate(324.70 717.60) scale(1 1.07)" font-size="9.65" text-anchor="middle" fill="#1a1a1a">M6</text>
<text transform="translate(392.00 717.60) scale(1 1.07)" font-size="9.65" text-anchor="middle" fill="#1a1a1a">M7</text>
<text transform="translate(237.80 734.10) scale(1 1.07)" font-size="9.65" text-anchor="middle" fill="#1a1a1a">AUC</text>
<text transform="translate(264.80 734.10) scale(1 1.07)" font-size="9.65" text-anchor="middle" fill="#1a1a1a">n</text>
<text transform="translate(305.00 734.10) scale(1 1.07)" font-size="9.65" text-anchor="middle" fill="#1a1a1a">AUC</text>
<text transform="translate(331.40 734.10) scale(1 1.07)" font-size="9.65" text-anchor="middle" fill="#1a1a1a">n</text>
<text transform="translate(372.00 734.10) scale(1 1.07)" font-size="9.65" text-anchor="middle" fill="#1a1a1a">AUC</text>
<text transform="translate(400.00 734.10) scale(1 1.07)" font-size="9.65" text-anchor="middle" fill="#1a1a1a">n</text>
<rect x="53.6" y="741.80" width="9.4" height="9.2" fill="#888888"/>
<text transform="translate(68.50 750.90) scale(1 1.07)" font-size="9.65" text-anchor="start" fill="#1a1a1a">Combination (all positive controls)</text>
<text transform="translate(237.80 750.90) scale(1 1.07)" font-size="9.65" text-anchor="middle" fill="#1a1a1a">0.97</text>
<text transform="translate(273.90 750.90) scale(1 1.07)" font-size="9.65" text-anchor="end" fill="#1a1a1a">600</text>
<text transform="translate(305.00 750.90) scale(1 1.07)" font-size="9.65" text-anchor="middle" fill="#1a1a1a">0.98</text>
<text transform="translate(340.50 750.90) scale(1 1.07)" font-size="9.65" text-anchor="end" fill="#1a1a1a">600</text>
<text transform="translate(372.00 750.90) scale(1 1.07)" font-size="9.65" text-anchor="middle" fill="#1a1a1a">0.98</text>
<text transform="translate(408.50 750.90) scale(1 1.07)" font-size="9.65" text-anchor="end" fill="#1a1a1a">600</text>
<rect x="53.6" y="758.30" width="9.4" height="9.2" fill="#ff7f0e"/>
<text transform="translate(215.40 767.20) scale(1 1.07)" font-size="9.65" text-anchor="end" fill="#1a1a1a">Essential + non-targeting</text>
<text transform="translate(237.80 767.20) scale(1 1.07)" font-size="9.65" text-anchor="middle" fill="#1a1a1a">0.96</text>
<text transform="translate(273.90 767.20) scale(1 1.07)" font-size="9.65" text-anchor="end" fill="#1a1a1a">246</text>
<text transform="translate(305.00 767.20) scale(1 1.07)" font-size="9.65" text-anchor="middle" fill="#1a1a1a">0.99</text>
<text transform="translate(340.50 767.20) scale(1 1.07)" font-size="9.65" text-anchor="end" fill="#1a1a1a">246</text>
<text transform="translate(372.00 767.20) scale(1 1.07)" font-size="9.65" text-anchor="middle" fill="#1a1a1a">0.98</text>
<text transform="translate(408.50 767.20) scale(1 1.07)" font-size="9.65" text-anchor="end" fill="#1a1a1a">246</text>
<rect x="53.6" y="774.80" width="9.4" height="9.2" fill="#ffbb78"/>
<text transform="translate(215.40 783.50) scale(1 1.07)" font-size="9.65" text-anchor="end" fill="#1a1a1a">Non-targeting + essential</text>
<text transform="translate(237.80 783.50) scale(1 1.07)" font-size="9.65" text-anchor="middle" fill="#1a1a1a">0.99</text>
<text transform="translate(273.90 783.50) scale(1 1.07)" font-size="9.65" text-anchor="end" fill="#1a1a1a">246</text>
<text transform="translate(305.00 783.50) scale(1 1.07)" font-size="9.65" text-anchor="middle" fill="#1a1a1a">0.99</text>
<text transform="translate(340.50 783.50) scale(1 1.07)" font-size="9.65" text-anchor="end" fill="#1a1a1a">246</text>
<text transform="translate(372.00 783.50) scale(1 1.07)" font-size="9.65" text-anchor="middle" fill="#1a1a1a">0.99</text>
<text transform="translate(408.50 783.50) scale(1 1.07)" font-size="9.65" text-anchor="end" fill="#1a1a1a">246</text>
<rect x="53.6" y="791.30" width="9.4" height="9.2" fill="#2ca02c"/>
<text transform="translate(215.40 799.80) scale(1 1.07)" font-size="9.65" text-anchor="end" fill="#1a1a1a">Intergenic + essential</text>
<text transform="translate(237.80 799.80) scale(1 1.07)" font-size="9.65" text-anchor="middle" fill="#1a1a1a">1.00</text>
<text transform="translate(273.90 799.80) scale(1 1.07)" font-size="9.65" text-anchor="end" fill="#1a1a1a">54</text>
<text transform="translate(305.00 799.80) scale(1 1.07)" font-size="9.65" text-anchor="middle" fill="#1a1a1a">1.00</text>
<text transform="translate(340.50 799.80) scale(1 1.07)" font-size="9.65" text-anchor="end" fill="#1a1a1a">54</text>
<text transform="translate(372.00 799.80) scale(1 1.07)" font-size="9.65" text-anchor="middle" fill="#1a1a1a">1.00</text>
<text transform="translate(408.50 799.80) scale(1 1.07)" font-size="9.65" text-anchor="end" fill="#1a1a1a">54</text>
<rect x="53.6" y="807.80" width="9.4" height="9.2" fill="#98df8a"/>
<text transform="translate(215.40 816.10) scale(1 1.07)" font-size="9.65" text-anchor="end" fill="#1a1a1a">Essential + intergenic</text>
<text transform="translate(237.80 816.10) scale(1 1.07)" font-size="9.65" text-anchor="middle" fill="#1a1a1a">0.96</text>
<text transform="translate(273.90 816.10) scale(1 1.07)" font-size="9.65" text-anchor="end" fill="#1a1a1a">54</text>
<text transform="translate(305.00 816.10) scale(1 1.07)" font-size="9.65" text-anchor="middle" fill="#1a1a1a">1.00</text>
<text transform="translate(340.50 816.10) scale(1 1.07)" font-size="9.65" text-anchor="end" fill="#1a1a1a">54</text>
<text transform="translate(372.00 816.10) scale(1 1.07)" font-size="9.65" text-anchor="middle" fill="#1a1a1a">0.99</text>
<text transform="translate(408.50 816.10) scale(1 1.07)" font-size="9.65" text-anchor="end" fill="#1a1a1a">54</text>
<rect x="53.6" y="824.30" width="9.4" height="9.2" fill="#2c7fb8"/>
<text transform="translate(215.40 832.40) scale(1 1.07)" font-size="9.65" text-anchor="end" fill="#1a1a1a">Non-essential + non-essential</text>
<text transform="translate(237.80 832.40) scale(1 1.07)" font-size="9.65" text-anchor="middle" fill="#1a1a1a">0.04</text>
<text transform="translate(273.90 832.40) scale(1 1.07)" font-size="9.65" text-anchor="end" fill="#1a1a1a">200</text>
<text transform="translate(305.00 832.40) scale(1 1.07)" font-size="9.65" text-anchor="middle" fill="#1a1a1a">0.02</text>
<text transform="translate(340.50 832.40) scale(1 1.07)" font-size="9.65" text-anchor="end" fill="#1a1a1a">200</text>
<text transform="translate(372.00 832.40) scale(1 1.07)" font-size="9.65" text-anchor="middle" fill="#1a1a1a">0.02</text>
<text transform="translate(408.50 832.40) scale(1 1.07)" font-size="9.65" text-anchor="end" fill="#1a1a1a">200</text>
<rect x="53.6" y="840.80" width="9.4" height="9.2" fill="#7b6fb8"/>
<text transform="translate(215.40 848.70) scale(1 1.07)" font-size="9.65" text-anchor="end" fill="#1a1a1a">Non-targeting + non-targeting</text>
<text transform="translate(237.80 848.70) scale(1 1.07)" font-size="9.65" text-anchor="middle" fill="#1a1a1a">0.01</text>
<text transform="translate(273.90 848.70) scale(1 1.07)" font-size="9.65" text-anchor="end" fill="#1a1a1a">200</text>
<text transform="translate(305.00 848.70) scale(1 1.07)" font-size="9.65" text-anchor="middle" fill="#1a1a1a">0.00</text>
<text transform="translate(340.50 848.70) scale(1 1.07)" font-size="9.65" text-anchor="end" fill="#1a1a1a">200</text>
<text transform="translate(372.00 848.70) scale(1 1.07)" font-size="9.65" text-anchor="middle" fill="#1a1a1a">0.00</text>
<text transform="translate(408.50 848.70) scale(1 1.07)" font-size="9.65" text-anchor="end" fill="#1a1a1a">200</text>
<rect x="53.6" y="857.30" width="9.4" height="9.2" fill="#2e3076"/>
<text transform="translate(215.40 865.00) scale(1 1.07)" font-size="9.65" text-anchor="end" fill="#1a1a1a">Intergenic + intergenic</text>
<text transform="translate(237.80 865.00) scale(1 1.07)" font-size="9.65" text-anchor="middle" fill="#1a1a1a">0.03</text>
<text transform="translate(273.90 865.00) scale(1 1.07)" font-size="9.65" text-anchor="end" fill="#1a1a1a">156</text>
<text transform="translate(305.00 865.00) scale(1 1.07)" font-size="9.65" text-anchor="middle" fill="#1a1a1a">0.02</text>
<text transform="translate(340.50 865.00) scale(1 1.07)" font-size="9.65" text-anchor="end" fill="#1a1a1a">156</text>
<text transform="translate(372.00 865.00) scale(1 1.07)" font-size="9.65" text-anchor="middle" fill="#1a1a1a">0.02</text>
<text transform="translate(408.50 865.00) scale(1 1.07)" font-size="9.65" text-anchor="end" fill="#1a1a1a">156</text>
</svg>
</body></html>
